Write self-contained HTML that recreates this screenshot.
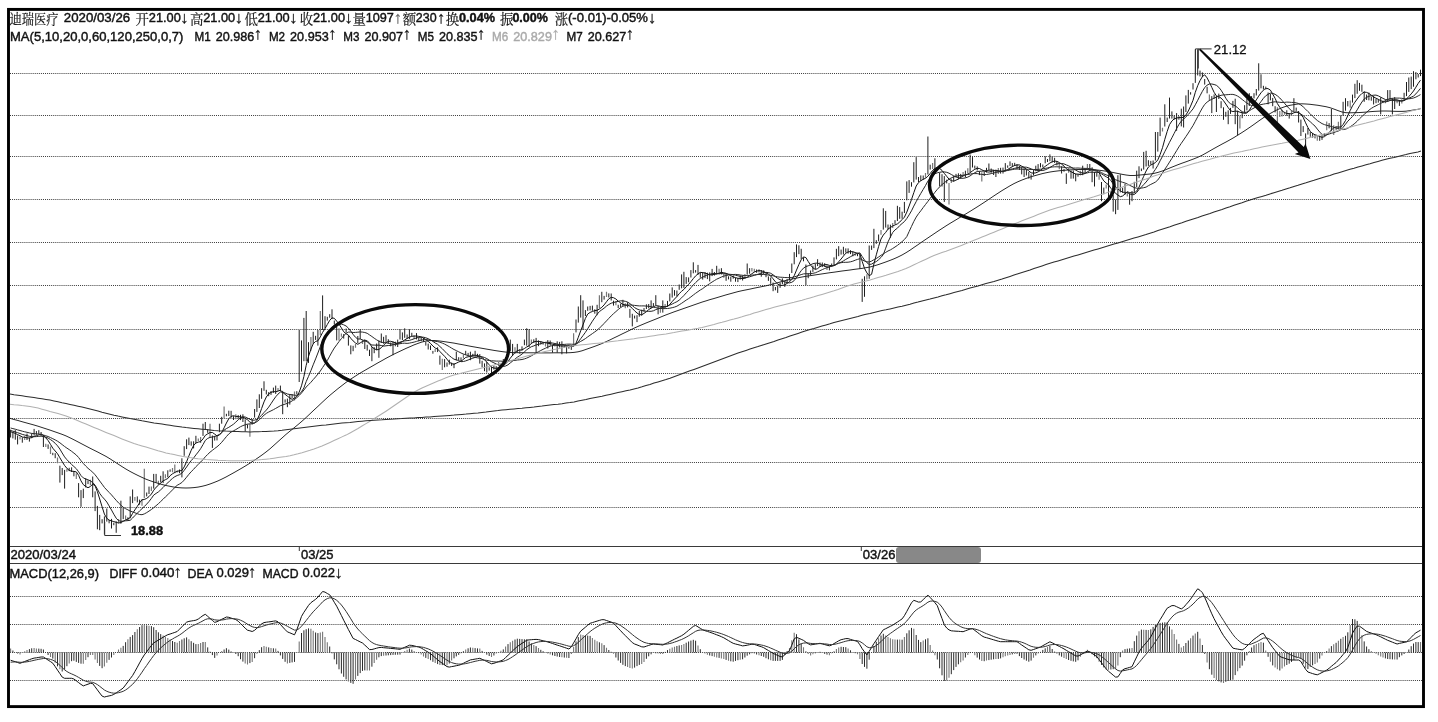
<!DOCTYPE html>
<html lang="zh"><head><meta charset="utf-8"><title>迪瑞医疗</title><style>html,body{margin:0;padding:0;background:#fff;overflow:hidden}svg{display:block}</style></head><body>
<svg width="1438" height="722" viewBox="0 0 1438 722" style="display:block">
<rect width="100%" height="100%" fill="#fff"/>
<g stroke="#3a3a3a" stroke-width="1" stroke-dasharray="1 1.06" fill="none">
<line x1="10" y1="73.5" x2="1422" y2="73.5"/>
<line x1="10" y1="115.5" x2="1422" y2="115.5"/>
<line x1="10" y1="156.5" x2="1422" y2="156.5"/>
<line x1="10" y1="199.5" x2="1422" y2="199.5"/>
<line x1="10" y1="242.5" x2="1422" y2="242.5"/>
<line x1="10" y1="285.5" x2="1422" y2="285.5"/>
<line x1="10" y1="329.5" x2="1422" y2="329.5"/>
<line x1="10" y1="373.5" x2="1422" y2="373.5"/>
<line x1="10" y1="418.5" x2="1422" y2="418.5"/>
<line x1="10" y1="462.5" x2="1422" y2="462.5"/>
<line x1="10" y1="507.5" x2="1422" y2="507.5"/>
<line x1="10" y1="596.5" x2="1422" y2="596.5"/>
<line x1="10" y1="624.5" x2="1422" y2="624.5"/>
<line x1="10" y1="652.5" x2="1422" y2="652.5"/>
<line x1="10" y1="680.5" x2="1422" y2="680.5"/>
</g>
<g stroke="#3a3a3a" stroke-width="1"><line x1="10" y1="546.5" x2="1422" y2="546.5"/><line x1="10" y1="563.5" x2="1422" y2="563.5"/>
<line x1="299.3" y1="546" x2="299.3" y2="551"/><line x1="861.3" y1="546" x2="861.3" y2="551"/></g>
<path d="M10.6 429.7V437.5M12.9 432.3V438.4M15.3 430.2V439.7M17.6 435.5V444.4M22.3 437.4V442.7M27.0 433.6V440.0M29.4 437.6V441.6M31.7 433.4V438.1M34.1 428.9V435.5M36.4 431.1V434.8M38.8 430.2V434.0M41.1 432.0V436.3M43.4 435.0V447.0M48.1 444.4V448.9M52.8 452.8V455.2M55.2 453.2V458.2M59.9 465.7V482.6M62.2 468.0V475.1M64.6 469.9V488.6M69.2 467.8V471.1M71.6 467.3V472.0M73.9 471.0V476.3M78.6 483.1V497.3M81.0 490.1V506.8M83.3 488.7V498.1M85.7 478.2V487.4M88.0 480.4V484.1M92.7 476.5V497.3M95.1 491.4V511.1M97.4 505.9V529.3M99.7 514.9V530.2M102.1 519.2V523.4M104.4 516.4V534.5M106.8 508.5V521.6M109.1 520.0V523.3M111.5 518.9V528.5M113.8 522.7V525.2M116.2 521.3V532.8M120.9 500.7V523.7M123.2 507.7V519.1M127.9 517.3V520.7M130.2 496.4V518.3M132.6 489.5V503.1M137.3 496.4V502.4M139.6 499.6V504.7M146.7 492.5V496.4M149.0 486.6V494.0M153.7 473.9V488.6M156.1 473.9V482.7M160.7 475.8V482.5M163.1 471.3V483.1M167.8 470.3V477.3M170.1 469.4V471.8M179.5 469.5V473.2M181.9 458.3V477.4M184.2 446.2V455.8M186.6 439.3V449.1M188.9 437.6V445.1M191.2 441.4V445.7M193.6 441.3V448.4M195.9 435.8V443.1M203.0 423.7V435.9M205.3 422.0V430.0M207.7 429.1V432.8M212.4 435.5V447.9M214.7 435.9V440.6M217.0 435.0V440.4M219.4 423.7V432.2M221.7 416.8V423.7M226.4 413.8V416.3M228.8 410.7V416.1M231.1 410.8V417.7M233.5 416.2V420.0M238.2 415.1V418.6M240.5 414.8V420.1M242.9 414.3V422.0M245.2 419.3V431.5M247.5 424.4V428.4M252.2 419.1V424.5M254.6 409.0V417.6M256.9 399.4V411.9M259.3 394.3V408.0M261.6 388.2V398.8M264.0 381.3V390.8M266.3 389.8V394.4M268.7 392.1V396.2M271.0 391.0V394.9M273.4 387.6V392.9M275.7 385.6V393.9M280.4 385.6V391.4M282.7 390.9V414.2M285.1 399.4V402.6M287.4 398.6V407.2M289.8 394.2V404.6M292.1 394.2V398.1M296.8 391.2V394.4M299.2 330.0V382.0M301.5 340.4V371.6M303.9 317.9V361.2M306.2 311.0V361.2M308.5 342.2V362.9M313.2 331.8V343.9M315.6 335.8V339.9M317.9 330.0V345.6M322.6 295.4V330.0M325.0 316.2V328.3M327.3 316.8V320.6M329.7 314.2V317.7M332.0 309.3V319.1M334.3 320.6V324.5M336.7 326.6V340.4M343.7 334.1V338.6M346.1 328.5V332.6M348.4 335.5V345.6M350.8 345.4V354.3M353.1 345.8V351.2M357.8 336.0V343.1M360.2 329.2V339.0M364.8 339.3V349.0M367.2 344.8V350.6M369.5 349.7V356.0M371.9 347.2V361.2M374.2 347.2V353.2M376.6 343.5V350.1M378.9 340.4V357.8M381.3 333.5V343.0M383.6 336.8V343.7M386.0 335.2V342.4M388.3 339.2V343.9M390.7 342.5V346.3M393.0 341.4V355.2M395.3 341.7V346.3M397.7 339.6V347.0M400.0 329.2V339.5M402.4 332.4V340.0M404.7 328.3V337.8M407.1 334.5V338.7M409.4 329.2V339.1M411.8 332.8V336.1M416.5 333.1V339.4M418.8 337.9V341.3M421.2 337.3V341.2M423.5 338.1V341.8M425.8 341.9V345.6M428.2 343.6V349.5M430.5 345.5V350.0M432.9 350.9V353.7M437.6 347.3V352.1M439.9 355.6V364.7M444.6 359.1V367.3M447.0 362.5V366.7M449.3 359.7V364.6M451.6 362.6V365.9M454.0 363.2V368.2M456.3 351.7V360.5M458.7 357.2V360.1M461.0 357.4V361.8M465.7 350.8V355.1M468.1 352.9V355.9M470.4 351.7V360.2M472.8 353.8V356.4M475.1 350.8V356.8M477.5 353.8V356.9M479.8 354.1V363.6M482.1 360.8V367.3M484.5 363.4V371.2M486.8 362.1V372.5M489.2 367.3V370.6M491.5 366.5V373.3M493.9 365.6V369.6M496.2 366.1V369.1M500.9 363.9V367.1M503.3 359.0V364.6M505.6 357.1V360.7M508.0 350.5V355.1M510.3 339.6V351.5M512.6 343.9V356.0M517.3 343.9V352.6M522.0 346.4V350.5M524.4 339.6V345.2M526.7 328.3V345.7M529.1 329.2V347.0M533.8 339.3V342.9M536.1 337.9V352.6M538.5 340.4V346.2M540.8 341.2V344.5M543.1 342.1V344.6M547.8 340.1V348.5M550.2 340.5V345.7M552.5 345.0V352.6M554.9 343.3V346.4M557.2 341.3V352.6M559.6 341.9V347.5M561.9 341.3V354.3M564.3 345.3V347.8M566.6 345.4V353.4M568.9 344.6V348.7M571.3 345.2V349.9M576.0 319.5V332.4M578.3 306.5V322.6M580.7 295.2V317.6M583.0 300.4V329.9M585.4 310.1V316.0M587.7 306.5V310.8M590.1 305.9V310.4M592.4 305.6V310.8M594.8 309.3V313.7M597.1 304.8V315.2M601.8 291.8V302.2M604.1 295.9V299.6M608.8 293.4V297.5M611.2 293.5V300.5M613.5 300.7V305.6M618.2 304.8V308.0M620.6 303.7V307.4M622.9 299.8V306.0M627.6 302.2V307.4M629.9 308.9V317.8M632.3 313.8V326.4M634.6 315.6V318.5M637.0 315.2V322.1M639.3 311.0V316.7M641.7 309.7V315.6M644.0 308.1V311.6M646.4 304.3V309.0M648.7 304.0V308.3M651.1 300.4V308.3M653.4 303.1V306.5M655.8 295.2V305.4M658.1 305.9V314.3M662.8 300.4V312.6M667.5 300.9V306.6M669.8 293.5V301.4M672.2 287.4V297.6M674.5 290.1V295.7M676.9 290.5V296.5M679.2 284.5V289.8M681.6 274.4V288.3M683.9 271.8V287.9M686.2 277.1V283.9M688.6 277.4V282.2M690.9 270.1V277.5M693.3 262.3V273.3M695.6 270.1V272.6M698.0 264.9V274.8M700.3 272.4V277.7M702.7 272.2V279.6M705.0 272.0V278.1M707.4 272.7V279.1M709.7 272.4V281.4M712.1 268.9V276.1M714.4 272.0V275.6M716.7 265.8V274.3M721.4 268.2V274.4M726.1 273.8V280.8M728.5 276.3V279.4M730.8 276.6V281.7M733.2 275.3V278.7M735.5 277.9V281.7M737.9 278.1V282.1M740.2 275.3V279.6M742.6 275.4V280.5M747.2 263.5V274.7M749.6 268.2V273.7M756.6 269.5V272.8M759.0 269.4V272.4M761.3 270.0V276.7M763.7 270.4V274.3M766.0 272.2V277.2M768.4 276.4V280.9M770.7 277.6V283.8M773.1 282.6V291.2M775.4 287.0V290.3M777.7 285.7V292.9M780.1 282.6V287.8M782.4 278.4V284.3M784.8 281.3V286.9M787.1 279.1V283.2M789.5 273.9V280.5M791.8 263.5V273.0M794.2 252.2V264.3M796.5 244.4V257.1M798.9 245.3V254.2M801.2 248.8V259.2M803.5 257.4V261.3M805.9 264.5V285.2M808.2 273.1V278.2M810.6 270.5V275.3M812.9 265.6V271.9M815.3 263.5V269.1M817.6 259.2V266.1M820.0 262.5V266.9M822.3 262.5V267.1M824.7 263.2V266.8M829.4 265.8V270.4M831.7 263.5V266.8M834.0 257.4V266.0M836.4 248.8V259.4M838.7 246.2V256.2M841.1 249.6V254.6M843.4 246.8V254.5M845.8 248.4V252.6M848.1 248.4V253.6M850.5 250.2V254.1M852.8 251.4V256.3M857.5 253.6V256.2M859.9 254.0V268.8M862.2 278.8V301.9M864.5 276.3V296.8M869.2 245.5V278.8M871.6 245.5V249.9M873.9 228.8V248.1M876.3 240.2V243.8M878.6 234.5V241.3M883.3 208.3V229.6M885.7 210.9V227.6M888.0 224.5V229.4M890.4 224.7V237.8M895.0 220.2V223.9M897.4 205.8V221.0M899.7 207.1V218.8M902.1 211.7V218.7M904.4 201.9V213.0M906.8 181.4V200.3M909.1 180.1V192.9M911.5 182.2V186.7M913.8 162.2V182.4M916.2 157.1V179.6M918.5 177.0V182.0M920.8 175.4V180.9M923.2 175.5V179.9M927.9 136.5V174.5M930.2 164.7V169.6M934.9 158.3V170.6M939.6 172.8V186.5M942.0 174.2V186.5M944.3 176.1V201.9M946.7 179.7V183.4M953.7 176.1V181.5M956.0 173.9V177.5M958.4 173.3V179.2M960.7 173.9V178.8M965.4 170.7V177.4M970.1 154.5V172.2M972.5 157.1V167.5M974.8 165.6V168.6M977.2 166.4V170.5M979.5 171.3V175.1M984.2 171.6V176.0M986.5 167.8V172.4M988.9 163.5V170.8M991.2 168.5V172.8M993.6 169.9V175.0M995.9 169.6V177.0M1000.6 167.8V173.6M1003.0 167.6V173.5M1005.3 163.1V171.5M1007.7 165.4V167.8M1010.0 161.4V166.1M1012.3 163.1V166.8M1014.7 162.8V166.1M1017.0 164.1V169.2M1019.4 165.8V170.0M1021.7 167.2V174.4M1024.1 168.2V177.0M1026.4 169.5V175.5M1028.8 172.0V178.6M1031.1 174.4V179.6M1033.5 170.1V175.3M1035.8 165.7V171.2M1038.1 164.1V170.4M1040.5 163.1V167.4M1042.8 164.5V167.5M1045.2 156.2V163.3M1047.5 159.0V162.0M1049.9 154.4V161.2M1052.2 156.6V162.4M1054.6 157.8V162.9M1056.9 161.0V165.4M1061.6 166.3V173.5M1064.0 168.9V171.7M1066.3 173.4V183.9M1071.0 170.6V178.7M1073.3 170.5V178.6M1075.7 173.5V181.3M1078.0 174.2V176.7M1082.7 165.7V175.2M1085.1 168.4V172.9M1089.8 164.0V170.5M1092.1 167.3V182.2M1094.5 172.0V186.5M1096.8 172.5V176.7M1101.5 182.0V201.2M1103.8 187.6V194.3M1108.5 174.4V197.8M1110.9 190.9V196.9M1113.2 195.1V211.6M1115.6 199.5V214.2M1117.9 175.2V209.9M1120.3 174.4V192.4M1122.6 187.8V192.8M1125.0 183.9V194.7M1129.6 193.3V204.7M1132.0 191.0V201.2M1134.3 181.8V192.8M1136.7 170.7V187.1M1139.0 166.3V178.2M1141.4 168.5V171.1M1143.7 151.9V169.6M1146.1 150.8V166.5M1148.4 160.2V165.9M1150.8 160.9V164.6M1153.1 160.5V168.5M1155.4 132.0V160.5M1157.8 132.0V151.6M1160.1 117.6V136.1M1164.8 104.3V126.5M1167.2 117.6V122.0M1169.5 97.6V118.5M1171.9 111.4V118.6M1174.2 115.6V119.6M1176.6 113.1V130.8M1178.9 116.2V119.7M1181.3 108.7V126.4M1183.6 106.5V127.5M1185.9 95.4V112.0M1188.3 89.9V103.6M1190.6 92.2V94.6M1193.0 83.2V89.5M1195.3 49.3V82.9M1197.7 49.3V75.4M1200.0 70.6V76.4M1202.4 72.4V77.0M1204.7 79.0V84.6M1207.1 86.8V93.3M1211.8 96.1V113.1M1214.1 94.4V98.9M1216.4 96.0V112.0M1218.8 93.6V99.0M1221.1 101.2V108.2M1223.5 107.3V119.8M1225.8 111.8V116.8M1228.2 110.3V124.2M1230.5 107.9V113.9M1232.9 100.9V107.8M1235.2 98.7V124.2M1237.6 110.7V135.3M1242.2 112.3V118.2M1244.6 105.2V112.8M1246.9 98.7V110.4M1249.3 93.2V106.0M1251.6 96.1V101.5M1254.0 93.2V98.4M1256.3 89.0V95.5M1258.7 63.3V90.6M1261.0 74.3V88.3M1263.4 85.8V89.5M1268.1 92.5V104.3M1270.4 93.8V100.3M1272.7 97.9V106.2M1275.1 106.2V112.4M1286.8 110.2V115.8M1289.2 113.2V118.6M1293.9 98.2V111.1M1296.2 107.6V110.9M1298.6 111.0V122.5M1300.9 119.6V136.0M1303.2 126.1V132.1M1305.6 133.4V145.0M1307.9 128.0V134.6M1310.3 132.1V136.8M1312.6 132.9V137.7M1315.0 135.0V138.4M1319.7 135.9V140.8M1322.0 135.2V139.9M1324.4 133.2V135.9M1329.1 123.1V128.3M1331.4 109.0V130.6M1336.1 127.4V129.8M1340.8 115.3V129.5M1343.1 101.8V115.8M1345.5 98.2V110.7M1347.8 101.0V106.4M1352.5 94.6V102.6M1354.9 83.8V98.1M1357.2 80.2V93.8M1359.5 82.9V90.8M1361.9 84.7V91.8M1364.2 91.4V101.8M1366.6 94.5V100.0M1368.9 92.6V100.3M1371.3 96.5V100.7M1373.6 95.9V104.5M1376.0 99.0V103.2M1378.3 99.3V102.6M1380.7 97.3V114.4M1383.0 100.6V103.1M1387.7 90.1V101.6M1390.0 90.1V99.1M1392.4 98.2V114.4M1394.7 97.1V109.0M1399.4 100.0V105.9M1404.1 92.8V100.9M1406.5 82.0V96.1M1408.8 77.5V91.9M1411.2 76.6V89.1M1413.5 71.2V86.7M1415.9 72.1V79.3M1418.2 74.0V77.5M1420.5 69.7V76.1" stroke="#1e1e1e" stroke-width="1" fill="none"/>
<path d="M20.0 436.6V439.5M24.7 435.9V440.1M45.8 443.8V447.1M50.5 446.6V453.9M57.5 457.5V463.2M66.9 468.4V471.8M76.3 473.2V479.1M90.4 479.7V485.2M118.5 519.1V523.2M125.6 515.5V519.8M134.9 497.0V500.7M142.0 498.9V505.8M144.3 468.7V498.3M151.4 486.6V490.9M158.4 480.7V485.1M165.4 474.3V478.2M172.5 468.1V472.3M174.8 464.4V473.3M177.2 470.4V472.6M198.3 438.4V441.0M200.6 436.9V442.9M210.0 423.7V437.6M224.1 406.4V418.3M235.8 414.2V419.3M249.9 423.8V436.7M278.0 387.9V391.0M294.5 391.5V400.5M310.9 337.0V350.8M320.3 311.0V335.2M339.0 328.3V340.4M341.4 333.4V336.8M355.5 344.0V347.8M362.5 339.7V344.0M414.1 335.3V339.1M435.2 349.0V352.1M442.3 358.8V369.9M463.4 354.2V358.6M498.6 362.0V365.8M515.0 347.2V353.7M519.7 349.1V353.9M531.4 339.6V344.0M545.5 342.2V346.5M573.6 333.3V346.2M599.4 295.2V308.3M606.5 291.8V296.9M615.9 301.0V305.3M625.3 303.2V308.2M660.4 306.8V312.8M665.1 304.0V308.0M719.1 268.7V274.8M723.8 273.8V277.7M744.9 274.1V278.1M751.9 268.0V271.4M754.3 268.8V272.1M827.0 265.3V270.1M855.2 252.3V255.8M866.9 274.3V279.4M881.0 229.9V234.7M892.7 222.9V228.1M925.5 173.1V177.7M932.6 163.1V168.9M937.3 168.4V171.2M949.0 183.1V204.5M951.3 178.6V183.1M963.1 171.9V176.3M967.8 168.3V173.5M981.8 172.3V181.4M998.3 167.9V174.1M1059.3 163.0V169.2M1068.6 168.2V172.8M1080.4 170.7V175.3M1087.4 164.0V169.2M1099.1 174.4V179.7M1106.2 184.5V188.4M1127.3 191.4V196.4M1162.5 127.8V131.4M1209.4 94.6V100.9M1239.9 115.7V128.6M1265.7 86.6V89.8M1277.4 107.2V123.4M1279.8 111.0V117.1M1282.1 109.8V116.5M1284.5 111.8V114.7M1291.5 110.7V116.1M1317.3 135.4V140.7M1326.7 121.6V130.3M1333.7 125.3V135.1M1338.4 121.7V129.6M1350.2 100.4V107.8M1385.4 99.7V103.2M1397.1 100.1V103.2M1401.8 99.2V103.6" stroke="#777" stroke-width="1.2" fill="none"/>
<polyline points="10.6,431.7 12.9,432.5 15.3,433.4 17.6,434.6 20.0,435.7 22.3,437.0 24.7,437.4 27.0,437.8 29.4,438.0 31.7,437.6 34.1,436.4 36.4,435.7 38.8,434.8 41.1,434.2 43.4,435.5 45.8,437.9 48.1,440.5 50.5,444.4 52.8,448.2 55.2,451.0 57.5,453.7 59.9,457.8 62.2,461.6 64.6,465.5 66.9,468.3 69.2,470.4 71.6,471.2 73.9,471.4 76.3,471.9 78.6,475.3 81.0,480.9 83.3,484.6 85.7,486.5 88.0,487.7 90.4,486.5 92.7,484.1 95.1,485.8 97.4,491.7 99.7,499.0 102.1,506.8 104.4,514.1 106.8,518.3 109.1,520.1 111.5,520.9 113.8,521.6 116.2,522.3 118.5,523.0 120.9,522.5 123.2,521.3 125.6,520.0 127.9,519.0 130.2,517.6 132.6,513.4 134.9,509.9 137.3,506.4 139.6,502.8 142.0,499.8 144.3,499.5 146.7,498.4 149.0,496.6 151.4,494.0 153.7,490.3 156.1,487.2 158.4,485.3 160.7,483.0 163.1,480.9 165.4,479.7 167.8,478.5 170.1,475.7 172.5,473.8 174.8,472.4 177.2,471.3 179.5,470.8 181.9,470.5 184.2,466.9 186.6,461.7 188.9,455.9 191.2,450.3 193.6,445.5 195.9,443.0 198.3,442.1 200.6,441.6 203.0,438.9 205.3,435.4 207.7,433.8 210.0,432.6 212.4,432.5 214.7,434.1 217.0,435.9 219.4,435.1 221.7,432.6 224.1,427.8 226.4,423.0 228.8,418.7 231.1,416.4 233.5,415.7 235.8,416.4 238.2,416.5 240.5,417.0 242.9,417.2 245.2,418.3 247.5,419.8 249.9,422.1 252.2,423.1 254.6,423.1 256.9,420.4 259.3,415.0 261.6,408.5 264.0,401.9 266.3,397.0 268.7,393.8 271.0,392.4 273.4,391.6 275.7,391.8 278.0,391.1 280.4,390.2 282.7,392.3 285.1,394.3 287.4,396.2 289.8,397.9 292.1,399.4 294.5,398.0 296.8,396.4 299.2,392.1 301.5,385.8 303.9,376.5 306.2,365.3 308.5,356.4 310.9,349.2 313.2,343.8 315.6,341.4 317.9,340.8 320.3,336.9 322.6,332.4 325.0,328.6 327.3,324.5 329.7,320.4 332.0,317.9 334.3,318.3 336.7,321.1 339.0,324.1 341.4,327.9 343.7,331.7 346.1,333.8 348.4,335.1 350.8,338.3 353.1,340.9 355.5,343.0 357.8,344.3 360.2,342.9 362.5,341.5 364.8,340.7 367.2,340.7 369.5,343.2 371.9,347.0 374.2,348.7 376.6,349.8 378.9,349.4 381.3,347.7 383.6,345.2 386.0,342.8 388.3,341.3 390.7,341.3 393.0,342.0 395.3,342.8 397.7,343.5 400.0,342.9 402.4,341.6 404.7,339.9 407.1,338.5 409.4,337.2 411.8,336.3 414.1,336.1 416.5,336.0 418.8,336.4 421.2,336.9 423.5,338.1 425.8,339.6 428.2,341.4 430.5,343.4 432.9,346.0 435.2,348.0 437.6,349.1 439.9,351.5 442.3,354.0 444.6,356.3 447.0,359.2 449.3,362.2 451.6,363.6 454.0,364.3 456.3,363.2 458.7,362.0 461.0,361.1 463.4,359.5 465.7,357.4 468.1,356.8 470.4,356.2 472.8,355.3 475.1,355.2 477.5,355.5 479.8,356.2 482.1,357.5 484.5,359.7 486.8,362.1 489.2,364.8 491.5,367.2 493.9,368.1 496.2,368.3 498.6,367.6 500.9,366.8 503.3,365.6 505.6,363.9 508.0,361.3 510.3,358.2 512.6,355.3 515.0,352.5 517.3,350.6 519.7,350.1 522.0,349.9 524.4,348.5 526.7,347.0 529.1,345.7 531.4,343.4 533.8,341.9 536.1,341.3 538.5,341.5 540.8,341.7 543.1,342.3 545.5,342.7 547.8,343.3 550.2,343.6 552.5,344.3 554.9,344.7 557.2,345.4 559.6,345.8 561.9,346.0 564.3,346.0 566.6,346.4 568.9,346.5 571.3,346.4 573.6,346.2 576.0,343.3 578.3,337.3 580.7,330.8 583.0,324.9 585.4,318.4 587.7,314.1 590.1,312.4 592.4,311.5 594.8,310.6 597.1,310.3 599.4,309.0 601.8,307.3 604.1,304.9 606.5,301.7 608.8,298.8 611.2,297.4 613.5,297.7 615.9,299.0 618.2,301.1 620.6,302.8 622.9,304.4 625.3,304.9 627.6,305.2 629.9,306.2 632.3,308.4 634.6,310.8 637.0,313.0 639.3,314.6 641.7,314.8 644.0,313.4 646.4,311.7 648.7,309.6 651.1,308.1 653.4,306.8 655.8,305.7 658.1,305.9 660.4,306.4 662.8,306.7 665.1,306.8 667.5,306.4 669.8,304.3 672.2,301.6 674.5,299.0 676.9,296.6 679.2,293.7 681.6,291.3 683.9,289.4 686.2,286.8 688.6,284.4 690.9,281.7 693.3,278.6 695.6,275.9 698.0,273.9 700.3,272.4 702.7,272.6 705.0,273.1 707.4,273.8 709.7,274.9 712.1,274.7 714.4,274.3 716.7,274.0 719.1,273.2 721.4,272.3 723.8,272.8 726.1,273.3 728.5,274.4 730.8,275.6 733.2,276.9 735.5,277.6 737.9,278.3 740.2,278.4 742.6,278.5 744.9,278.3 747.2,277.3 749.6,275.4 751.9,273.7 754.3,272.1 756.6,271.1 759.0,270.6 761.3,270.9 763.7,271.5 766.0,272.8 768.4,274.1 770.7,276.0 773.1,278.8 775.4,281.8 777.7,284.0 780.1,285.3 782.4,285.5 784.8,284.8 787.1,283.4 789.5,281.8 791.8,279.4 794.2,275.7 796.5,270.1 798.9,264.5 801.2,259.7 803.5,256.9 805.9,257.6 808.2,261.4 810.6,265.1 812.9,267.8 815.3,269.5 817.6,268.6 820.0,266.6 822.3,265.4 824.7,264.7 827.0,264.6 829.4,265.4 831.7,265.7 834.0,265.7 836.4,264.3 838.7,261.7 841.1,259.0 843.4,256.1 845.8,253.2 848.1,251.9 850.5,251.6 852.8,251.8 855.2,252.5 857.5,253.3 859.9,253.9 862.2,261.4 864.5,268.4 866.9,272.9 869.2,275.7 871.6,274.3 873.9,264.0 876.3,254.8 878.6,246.5 881.0,239.0 883.3,235.0 885.7,232.4 888.0,229.1 890.4,227.5 892.7,226.0 895.0,224.9 897.4,223.9 899.7,222.1 902.1,219.5 904.4,217.2 906.8,212.1 909.1,206.0 911.5,199.5 913.8,192.7 916.2,186.0 918.5,182.6 920.8,180.8 923.2,179.3 925.5,178.3 927.9,176.2 930.2,173.5 932.6,170.4 934.9,168.4 937.3,167.3 939.6,168.4 942.0,170.4 944.3,173.4 946.7,176.3 949.0,179.1 951.3,180.6 953.7,181.2 956.0,180.1 958.4,179.1 960.7,177.3 963.1,176.0 965.4,174.7 967.8,174.2 970.1,172.7 972.5,170.9 974.8,169.3 977.2,168.3 979.5,168.5 981.8,169.8 984.2,171.0 986.5,171.8 988.9,172.1 991.2,171.5 993.6,170.7 995.9,170.6 998.3,170.7 1000.6,171.1 1003.0,171.3 1005.3,170.6 1007.7,169.5 1010.0,168.0 1012.3,166.7 1014.7,165.4 1017.0,165.0 1019.4,164.9 1021.7,166.2 1024.1,167.4 1026.4,169.1 1028.8,170.9 1031.1,172.8 1033.5,173.2 1035.8,172.8 1038.1,171.9 1040.5,170.4 1042.8,168.3 1045.2,166.4 1047.5,164.7 1049.9,163.0 1052.2,161.8 1054.6,161.0 1056.9,161.4 1059.3,162.5 1061.6,164.1 1064.0,166.1 1066.3,168.7 1068.6,170.3 1071.0,171.7 1073.3,172.9 1075.7,174.1 1078.0,174.1 1080.4,174.6 1082.7,174.1 1085.1,173.5 1087.4,171.8 1089.8,170.4 1092.1,169.7 1094.5,170.6 1096.8,171.3 1099.1,172.8 1101.5,177.3 1103.8,180.9 1106.2,183.1 1108.5,184.7 1110.9,188.5 1113.2,190.6 1115.6,193.4 1117.9,195.0 1120.3,196.7 1122.6,196.0 1125.0,193.9 1127.3,191.9 1129.6,192.5 1132.0,193.0 1134.3,192.9 1136.7,191.1 1139.0,187.2 1141.4,181.6 1143.7,176.3 1146.1,171.0 1148.4,167.0 1150.8,165.0 1153.1,163.9 1155.4,162.6 1157.8,159.9 1160.1,154.6 1162.5,147.7 1164.8,139.3 1167.2,131.4 1169.5,124.7 1171.9,121.0 1174.2,118.9 1176.6,118.0 1178.9,117.6 1181.3,117.6 1183.6,117.3 1185.9,115.0 1188.3,111.0 1190.6,106.1 1193.0,100.3 1195.3,92.3 1197.7,85.7 1200.0,80.6 1202.4,76.6 1204.7,74.8 1207.1,77.9 1209.4,82.4 1211.8,87.4 1214.1,92.3 1216.4,95.9 1218.8,96.7 1221.1,98.1 1223.5,100.7 1225.8,104.0 1228.2,107.6 1230.5,110.7 1232.9,111.6 1235.2,111.1 1237.6,111.3 1239.9,112.2 1242.2,112.7 1244.6,113.4 1246.9,113.0 1249.3,110.3 1251.6,106.4 1254.0,103.3 1256.3,99.9 1258.7,96.1 1261.0,92.8 1263.4,90.2 1265.7,88.2 1268.1,88.7 1270.4,90.1 1272.7,94.1 1275.1,98.3 1277.4,103.6 1279.8,107.3 1282.1,110.9 1284.5,112.5 1286.8,113.5 1289.2,113.6 1291.5,113.9 1293.9,112.8 1296.2,112.0 1298.6,112.2 1300.9,114.6 1303.2,117.4 1305.6,122.8 1307.9,127.5 1310.3,131.5 1312.6,133.5 1315.0,134.8 1317.3,135.4 1319.7,136.5 1322.0,137.3 1324.4,136.7 1326.7,134.8 1329.1,132.6 1331.4,130.0 1333.7,127.9 1336.1,126.8 1338.4,127.1 1340.8,127.0 1343.1,124.5 1345.5,120.5 1347.8,115.7 1350.2,110.5 1352.5,105.8 1354.9,102.2 1357.2,99.0 1359.5,95.9 1361.9,93.5 1364.2,92.1 1366.6,92.4 1368.9,93.5 1371.3,95.2 1373.6,97.0 1376.0,98.2 1378.3,99.3 1380.7,100.7 1383.0,101.6 1385.4,101.9 1387.7,101.4 1390.0,100.5 1392.4,99.8 1394.7,99.8 1397.1,99.8 1399.4,100.6 1401.8,101.1 1404.1,100.6 1406.5,98.9 1408.8,96.6 1411.2,93.9 1413.5,91.0 1415.9,87.2 1418.2,83.4 1420.5,80.2" fill="none" stroke="#111" stroke-width="1"/>
<polyline points="10.6,430.5 12.9,431.2 15.3,431.9 17.6,432.7 20.0,433.5 22.3,434.4 24.7,435.0 27.0,435.6 29.4,436.3 31.7,436.6 34.1,436.7 36.4,436.6 38.8,436.3 41.1,436.1 43.4,436.6 45.8,437.1 48.1,438.1 50.5,439.6 52.8,441.2 55.2,443.3 57.5,445.8 59.9,449.1 62.2,453.0 64.6,456.9 66.9,459.7 69.2,462.0 71.6,464.5 73.9,466.5 76.3,468.7 78.6,471.8 81.0,475.6 83.3,477.9 85.7,479.0 88.0,479.8 90.4,480.9 92.7,482.5 95.1,485.2 97.4,489.1 99.7,493.4 102.1,496.6 104.4,499.1 106.8,502.0 109.1,505.9 111.5,510.0 113.8,514.2 116.2,518.2 118.5,520.6 120.9,521.3 123.2,521.1 125.6,520.8 127.9,520.6 130.2,520.3 132.6,518.0 134.9,515.6 137.3,513.2 139.6,510.9 142.0,508.7 144.3,506.5 146.7,504.1 149.0,501.5 151.4,498.4 153.7,495.1 156.1,493.4 158.4,491.9 160.7,489.8 163.1,487.5 165.4,485.0 167.8,482.9 170.1,480.5 172.5,478.4 174.8,476.7 177.2,475.5 179.5,474.7 181.9,473.1 184.2,470.3 186.6,467.0 188.9,463.6 191.2,460.6 193.6,458.0 195.9,454.9 198.3,451.9 200.6,448.7 203.0,444.6 205.3,440.4 207.7,438.4 210.0,437.4 212.4,437.0 214.7,436.5 217.0,435.6 219.4,434.4 221.7,432.6 224.1,430.1 226.4,428.6 228.8,427.3 231.1,425.8 233.5,424.2 235.8,422.1 238.2,419.8 240.5,417.9 242.9,416.8 245.2,417.0 247.5,418.1 249.9,419.3 252.2,420.1 254.6,420.2 256.9,419.3 259.3,417.4 261.6,415.3 264.0,412.5 266.3,410.1 268.7,407.1 271.0,403.7 273.4,400.0 275.7,396.8 278.0,394.1 280.4,392.0 282.7,392.3 285.1,393.0 287.4,394.0 289.8,394.5 292.1,394.8 294.5,395.2 296.8,395.4 299.2,394.2 301.5,391.9 303.9,387.9 306.2,381.6 308.5,376.4 310.9,370.7 313.2,364.8 315.6,358.9 317.9,353.0 320.3,346.6 322.6,340.8 325.0,336.2 327.3,333.0 329.7,330.6 332.0,327.4 334.3,325.3 336.7,324.8 339.0,324.3 341.4,324.1 343.7,324.8 346.1,326.0 348.4,328.1 350.8,331.2 353.1,334.4 355.5,337.3 357.8,339.0 360.2,339.0 362.5,339.9 364.8,340.8 367.2,341.9 369.5,343.8 371.9,345.0 374.2,345.1 376.6,345.2 378.9,345.1 381.3,345.5 383.6,346.1 386.0,345.8 388.3,345.5 390.7,345.3 393.0,344.8 395.3,344.0 397.7,343.1 400.0,342.1 402.4,341.4 404.7,340.9 407.1,340.6 409.4,340.4 411.8,339.6 414.1,338.8 416.5,337.9 418.8,337.4 421.2,337.1 423.5,337.2 425.8,337.8 428.2,338.7 430.5,339.9 432.9,341.4 435.2,343.0 437.6,344.3 439.9,346.5 442.3,348.7 444.6,351.1 447.0,353.6 449.3,355.6 451.6,357.5 454.0,359.2 456.3,359.8 458.7,360.6 461.0,361.7 463.4,361.5 465.7,360.9 468.1,360.0 470.4,359.1 472.8,358.2 475.1,357.4 477.5,356.5 479.8,356.5 482.1,356.8 484.5,357.5 486.8,358.6 489.2,360.1 491.5,361.7 493.9,362.8 496.2,364.0 498.6,364.9 500.9,365.8 503.3,366.4 505.6,366.0 508.0,364.8 510.3,362.9 512.6,361.1 515.0,359.0 517.3,357.2 519.7,355.7 522.0,354.1 524.4,351.9 526.7,349.8 529.1,348.1 531.4,346.7 533.8,345.9 536.1,344.9 538.5,344.3 540.8,343.7 543.1,342.8 545.5,342.3 547.8,342.3 550.2,342.6 552.5,343.0 554.9,343.5 557.2,344.1 559.6,344.6 561.9,344.8 564.3,345.1 566.6,345.6 568.9,345.9 571.3,346.1 573.6,346.1 576.0,344.6 578.3,341.9 580.7,338.7 583.0,335.6 585.4,332.3 587.7,328.7 590.1,324.9 592.4,321.2 594.8,317.7 597.1,314.3 599.4,311.6 601.8,309.8 604.1,308.2 606.5,306.1 608.8,304.5 611.2,303.2 613.5,302.5 615.9,301.9 618.2,301.4 620.6,300.8 622.9,300.9 625.3,301.3 627.6,302.1 629.9,303.6 632.3,305.6 634.6,307.6 637.0,309.0 639.3,309.9 641.7,310.5 644.0,310.9 646.4,311.3 648.7,311.3 651.1,311.3 653.4,310.8 655.8,309.6 658.1,308.8 660.4,308.0 662.8,307.4 665.1,306.8 667.5,306.1 669.8,305.1 672.2,304.0 674.5,302.8 676.9,301.7 679.2,300.1 681.6,297.8 683.9,295.5 686.2,292.9 688.6,290.5 690.9,287.7 693.3,284.9 695.6,282.6 698.0,280.3 700.3,278.4 702.7,277.2 705.0,275.9 707.4,274.9 709.7,274.4 712.1,273.6 714.4,273.5 716.7,273.6 719.1,273.5 721.4,273.6 723.8,273.7 726.1,273.8 728.5,274.2 730.8,274.4 733.2,274.6 735.5,275.2 737.9,275.8 740.2,276.4 742.6,277.1 744.9,277.6 747.2,277.4 749.6,276.8 751.9,276.1 754.3,275.3 756.6,274.7 759.0,273.9 761.3,273.1 763.7,272.6 766.0,272.4 768.4,272.6 770.7,273.3 773.1,274.8 775.4,276.7 777.7,278.4 780.1,279.7 782.4,280.7 784.8,281.8 787.1,282.6 789.5,282.9 791.8,282.3 794.2,280.6 796.5,277.5 798.9,273.9 801.2,270.7 803.5,268.1 805.9,266.6 808.2,265.8 810.6,264.8 812.9,263.7 815.3,263.2 817.6,263.1 820.0,264.0 822.3,265.2 824.7,266.2 827.0,267.0 829.4,267.0 831.7,266.1 834.0,265.5 836.4,264.5 838.7,263.1 841.1,262.2 843.4,260.9 845.8,259.4 848.1,258.1 850.5,256.7 852.8,255.4 855.2,254.3 857.5,253.2 859.9,252.9 862.2,256.5 864.5,260.1 866.9,262.7 869.2,264.5 871.6,264.1 873.9,262.7 876.3,261.6 878.6,259.7 881.0,257.4 883.3,254.6 885.7,248.2 888.0,241.9 890.4,237.0 892.7,232.5 895.0,229.9 897.4,228.2 899.7,225.6 902.1,223.5 904.4,221.6 906.8,218.5 909.1,214.9 911.5,210.8 913.8,206.1 916.2,201.6 918.5,197.4 920.8,193.4 923.2,189.4 925.5,185.5 927.9,181.1 930.2,178.1 932.6,175.6 934.9,173.8 937.3,172.8 939.6,172.3 942.0,171.9 944.3,171.9 946.7,172.3 949.0,173.2 951.3,174.5 953.7,175.8 956.0,176.8 958.4,177.7 960.7,178.2 963.1,178.3 965.4,177.9 967.8,177.1 970.1,175.9 972.5,174.1 974.8,172.7 977.2,171.5 979.5,171.3 981.8,171.2 984.2,170.9 986.5,170.6 988.9,170.2 991.2,170.0 993.6,170.2 995.9,170.8 998.3,171.3 1000.6,171.6 1003.0,171.4 1005.3,170.6 1007.7,170.1 1010.0,169.3 1012.3,168.9 1014.7,168.3 1017.0,167.8 1019.4,167.2 1021.7,167.1 1024.1,167.1 1026.4,167.2 1028.8,167.9 1031.1,168.9 1033.5,169.7 1035.8,170.1 1038.1,170.5 1040.5,170.6 1042.8,170.5 1045.2,169.8 1047.5,168.8 1049.9,167.5 1052.2,166.1 1054.6,164.6 1056.9,163.9 1059.3,163.6 1061.6,163.5 1064.0,163.9 1066.3,164.9 1068.6,165.8 1071.0,167.1 1073.3,168.5 1075.7,170.1 1078.0,171.4 1080.4,172.5 1082.7,172.9 1085.1,173.2 1087.4,172.9 1089.8,172.2 1092.1,172.2 1094.5,172.3 1096.8,172.4 1099.1,172.3 1101.5,173.8 1103.8,175.3 1106.2,176.8 1108.5,178.0 1110.9,180.7 1113.2,183.9 1115.6,187.1 1117.9,189.1 1120.3,190.7 1122.6,192.3 1125.0,192.3 1127.3,192.6 1129.6,193.8 1132.0,194.8 1134.3,194.5 1136.7,192.5 1139.0,189.5 1141.4,187.1 1143.7,184.6 1146.1,182.0 1148.4,179.1 1150.8,176.1 1153.1,172.7 1155.4,169.4 1157.8,165.4 1160.1,160.8 1162.5,156.3 1164.8,151.6 1167.2,147.0 1169.5,142.3 1171.9,137.8 1174.2,133.3 1176.6,128.6 1178.9,124.5 1181.3,121.1 1183.6,119.1 1185.9,116.9 1188.3,114.5 1190.6,111.8 1193.0,108.9 1195.3,104.8 1197.7,100.3 1200.0,95.8 1202.4,91.3 1204.7,87.6 1207.1,85.1 1209.4,84.0 1211.8,84.0 1214.1,84.5 1216.4,85.3 1218.8,87.3 1221.1,90.2 1223.5,94.1 1225.8,98.2 1228.2,101.7 1230.5,103.7 1232.9,104.8 1235.2,105.9 1237.6,107.7 1239.9,109.9 1242.2,111.7 1244.6,112.5 1246.9,112.1 1249.3,110.8 1251.6,109.3 1254.0,108.0 1256.3,106.6 1258.7,104.5 1261.0,101.6 1263.4,98.3 1265.7,95.8 1268.1,94.3 1270.4,93.1 1272.7,93.4 1275.1,94.3 1277.4,95.9 1279.8,98.0 1282.1,100.5 1284.5,103.3 1286.8,105.9 1289.2,108.6 1291.5,110.6 1293.9,111.9 1296.2,112.2 1298.6,112.8 1300.9,114.1 1303.2,115.7 1305.6,117.8 1307.9,119.8 1310.3,121.8 1312.6,124.0 1315.0,126.1 1317.3,129.1 1319.7,132.0 1322.0,134.4 1324.4,135.1 1326.7,134.8 1329.1,134.0 1331.4,133.3 1333.7,132.6 1336.1,131.7 1338.4,131.0 1340.8,129.8 1343.1,127.3 1345.5,124.2 1347.8,121.2 1350.2,118.8 1352.5,116.4 1354.9,113.4 1357.2,109.8 1359.5,105.8 1361.9,102.0 1364.2,99.0 1366.6,97.3 1368.9,96.3 1371.3,95.6 1373.6,95.2 1376.0,95.1 1378.3,95.9 1380.7,97.1 1383.0,98.4 1385.4,99.5 1387.7,99.8 1390.0,99.9 1392.4,100.2 1394.7,100.7 1397.1,100.9 1399.4,101.0 1401.8,100.8 1404.1,100.2 1406.5,99.4 1408.8,98.2 1411.2,97.2 1413.5,96.1 1415.9,93.9 1418.2,91.2 1420.5,88.4" fill="none" stroke="#222" stroke-width="1"/>
<polyline points="10.6,428.0 12.9,428.6 15.3,429.2 17.6,429.9 20.0,430.5 22.3,431.2 24.7,431.8 27.0,432.3 29.4,432.9 31.7,433.4 34.1,433.6 36.4,433.9 38.8,434.1 41.1,434.4 43.4,435.0 45.8,435.8 48.1,436.5 50.5,437.6 52.8,438.7 55.2,439.9 57.5,441.2 59.9,442.8 62.2,444.6 64.6,446.5 66.9,448.1 69.2,449.6 71.6,451.3 73.9,453.1 76.3,455.0 78.6,457.5 81.0,460.7 83.3,463.5 85.7,466.0 88.0,468.3 90.4,470.3 92.7,472.2 95.1,474.8 97.4,477.8 99.7,481.0 102.1,484.2 104.4,487.4 106.8,490.0 109.1,492.4 111.5,494.9 113.8,497.6 116.2,500.3 118.5,502.9 120.9,505.2 123.2,507.2 125.6,508.7 127.9,509.8 130.2,511.1 132.6,511.9 134.9,512.8 137.3,513.7 139.6,514.5 142.0,514.7 144.3,513.9 146.7,512.6 149.0,511.1 151.4,509.5 153.7,507.7 156.1,505.7 158.4,503.7 160.7,501.5 163.1,499.2 165.4,496.9 167.8,494.7 170.1,492.3 172.5,489.9 174.8,487.5 177.2,485.3 179.5,484.0 181.9,482.5 184.2,480.1 186.6,477.2 188.9,474.3 191.2,471.7 193.6,469.3 195.9,466.7 198.3,464.3 200.6,462.1 203.0,459.6 205.3,456.8 207.7,454.4 210.0,452.2 212.4,450.3 214.7,448.5 217.0,446.8 219.4,444.7 221.7,442.3 224.1,439.4 226.4,436.6 228.8,433.9 231.1,432.1 233.5,430.8 235.8,429.6 238.2,428.1 240.5,426.7 242.9,425.6 245.2,424.8 247.5,424.1 249.9,423.9 252.2,423.7 254.6,423.0 256.9,421.7 259.3,419.8 261.6,417.5 264.0,415.2 266.3,413.4 268.7,412.0 271.0,410.9 273.4,409.7 275.7,408.4 278.0,407.1 280.4,405.7 282.7,404.9 285.1,404.1 287.4,403.3 289.8,402.3 292.1,400.9 294.5,399.4 296.8,397.7 299.2,395.5 301.5,393.0 303.9,390.0 306.2,387.0 308.5,384.7 310.9,382.3 313.2,379.6 315.6,376.9 317.9,374.1 320.3,371.0 322.6,367.5 325.0,364.0 327.3,360.5 329.7,356.1 332.0,351.9 334.3,348.0 336.7,344.8 339.0,341.6 341.4,338.6 343.7,335.7 346.1,333.4 348.4,332.1 350.8,332.1 353.1,332.5 355.5,332.4 357.8,332.2 360.2,331.9 362.5,332.1 364.8,332.5 367.2,333.3 369.5,334.9 371.9,336.5 374.2,338.2 376.6,339.8 378.9,341.2 381.3,342.2 383.6,342.6 386.0,342.8 388.3,343.2 390.7,343.6 393.0,344.3 395.3,344.5 397.7,344.1 400.0,343.7 402.4,343.3 404.7,343.2 407.1,343.4 409.4,343.1 411.8,342.6 414.1,342.1 416.5,341.4 418.8,340.7 421.2,340.1 423.5,339.7 425.8,339.6 428.2,339.8 430.5,340.2 432.9,340.9 435.2,341.3 437.6,341.6 439.9,342.2 442.3,343.1 444.6,344.1 447.0,345.4 449.3,346.7 451.6,348.1 454.0,349.5 456.3,350.6 458.7,351.8 461.0,353.0 463.4,354.0 465.7,354.8 468.1,355.6 470.4,356.3 472.8,356.9 475.1,357.4 477.5,357.8 479.8,358.1 482.1,358.7 484.5,359.6 486.8,360.1 489.2,360.5 491.5,360.8 493.9,360.9 496.2,361.1 498.6,361.1 500.9,361.1 503.3,361.4 505.6,361.4 508.0,361.2 510.3,360.8 512.6,360.6 515.0,360.4 517.3,360.0 519.7,359.8 522.0,359.5 524.4,358.9 526.7,358.1 529.1,357.0 531.4,355.8 533.8,354.4 536.1,353.0 538.5,351.7 540.8,350.5 543.1,349.3 545.5,348.2 547.8,347.1 550.2,346.2 552.5,345.6 554.9,345.1 557.2,345.0 559.6,344.7 561.9,344.5 564.3,344.4 566.6,344.2 568.9,344.1 571.3,344.2 573.6,344.3 576.0,343.8 578.3,342.7 580.7,341.4 583.0,340.1 585.4,338.6 587.7,336.9 590.1,335.2 592.4,333.6 594.8,331.9 597.1,330.2 599.4,328.1 601.8,325.9 604.1,323.4 606.5,320.9 608.8,318.4 611.2,315.9 613.5,313.7 615.9,311.6 618.2,309.5 620.6,307.6 622.9,306.2 625.3,305.6 627.6,305.1 629.9,304.9 632.3,305.1 634.6,305.4 637.0,305.7 639.3,305.9 641.7,305.9 644.0,305.9 646.4,306.1 648.7,306.3 651.1,306.7 653.4,307.2 655.8,307.6 658.1,308.2 660.4,308.5 662.8,308.6 665.1,308.6 667.5,308.5 669.8,308.2 672.2,307.7 674.5,307.1 676.9,306.2 679.2,304.8 681.6,303.3 683.9,301.7 686.2,300.1 688.6,298.6 690.9,296.9 693.3,295.0 695.6,293.3 698.0,291.6 700.3,290.0 702.7,288.6 705.0,286.8 707.4,285.2 709.7,283.6 712.1,282.0 714.4,280.6 716.7,279.2 719.1,278.1 721.4,277.0 723.8,276.1 726.1,275.5 728.5,275.0 730.8,274.7 733.2,274.5 735.5,274.4 737.9,274.6 740.2,275.0 742.6,275.3 744.9,275.6 747.2,275.6 749.6,275.3 751.9,275.1 754.3,274.9 756.6,274.6 759.0,274.5 761.3,274.5 763.7,274.5 766.0,274.7 768.4,275.1 770.7,275.4 773.1,275.8 775.4,276.4 777.7,276.9 780.1,277.2 782.4,277.3 784.8,277.5 787.1,277.6 789.5,277.7 791.8,277.5 794.2,276.9 796.5,276.2 798.9,275.3 801.2,274.6 803.5,273.9 805.9,273.7 808.2,273.8 810.6,273.7 812.9,273.3 815.3,272.8 817.6,271.8 820.0,270.7 822.3,269.6 824.7,268.5 827.0,267.6 829.4,266.8 831.7,266.0 834.0,265.2 836.4,264.1 838.7,263.2 841.1,262.7 843.4,262.4 845.8,262.3 848.1,262.2 850.5,261.8 852.8,261.2 855.2,260.2 857.5,259.4 859.9,258.7 862.2,259.8 864.5,261.1 866.9,261.8 869.2,262.0 871.6,261.1 873.9,259.7 876.3,258.5 878.6,257.0 881.0,255.3 883.3,253.8 885.7,252.4 888.0,251.0 890.4,249.9 892.7,248.5 895.0,247.0 897.4,245.4 899.7,243.6 902.1,241.6 904.4,239.5 906.8,236.6 909.1,231.6 911.5,226.4 913.8,221.5 916.2,217.1 918.5,213.7 920.8,210.8 923.2,207.5 925.5,204.5 927.9,201.4 930.2,198.3 932.6,195.3 934.9,192.3 937.3,189.4 939.6,186.9 942.0,184.6 944.3,182.7 946.7,180.9 949.0,179.3 951.3,177.8 953.7,176.9 956.0,176.2 958.4,175.8 960.7,175.5 963.1,175.3 965.4,174.9 967.8,174.5 970.1,174.1 972.5,173.6 974.8,173.6 977.2,173.6 979.5,174.1 981.8,174.4 984.2,174.6 986.5,174.5 988.9,174.1 991.2,173.6 993.6,173.0 995.9,172.4 998.3,172.0 1000.6,171.6 1003.0,171.4 1005.3,170.9 1007.7,170.5 1010.0,170.0 1012.3,169.6 1014.7,169.2 1017.0,169.0 1019.4,169.0 1021.7,169.2 1024.1,169.3 1026.4,169.3 1028.8,169.3 1031.1,169.5 1033.5,169.5 1035.8,169.5 1038.1,169.4 1040.5,169.2 1042.8,168.9 1045.2,168.4 1047.5,167.9 1049.9,167.3 1052.2,167.0 1054.6,166.8 1056.9,166.8 1059.3,166.9 1061.6,167.0 1064.0,167.3 1066.3,167.7 1068.6,167.8 1071.0,167.9 1073.3,168.0 1075.7,168.1 1078.0,168.0 1080.4,168.2 1082.7,168.3 1085.1,168.4 1087.4,168.4 1089.8,168.6 1092.1,169.0 1094.5,169.7 1096.8,170.4 1099.1,171.2 1101.5,172.6 1103.8,173.9 1106.2,174.9 1108.5,175.6 1110.9,176.8 1113.2,178.1 1115.6,179.7 1117.9,180.7 1120.3,181.5 1122.6,182.3 1125.0,183.0 1127.3,184.0 1129.6,185.3 1132.0,186.4 1134.3,187.6 1136.7,188.2 1139.0,188.3 1141.4,188.1 1143.7,187.7 1146.1,187.1 1148.4,185.7 1150.8,184.4 1153.1,183.3 1155.4,182.1 1157.8,180.0 1160.1,176.7 1162.5,172.9 1164.8,169.3 1167.2,165.8 1169.5,162.1 1171.9,158.4 1174.2,154.7 1176.6,150.7 1178.9,146.9 1181.3,143.3 1183.6,140.0 1185.9,136.6 1188.3,133.0 1190.6,129.4 1193.0,125.6 1195.3,121.3 1197.7,116.8 1200.0,112.2 1202.4,107.9 1204.7,104.4 1207.1,102.1 1209.4,100.5 1211.8,99.3 1214.1,98.1 1216.4,97.1 1218.8,96.1 1221.1,95.3 1223.5,94.9 1225.8,94.8 1228.2,94.6 1230.5,94.4 1232.9,94.4 1235.2,95.0 1237.6,96.1 1239.9,97.6 1242.2,99.5 1244.6,101.4 1246.9,103.1 1249.3,104.5 1251.6,105.5 1254.0,105.8 1256.3,105.7 1258.7,105.2 1261.0,104.6 1263.4,104.1 1265.7,103.7 1268.1,103.4 1270.4,102.6 1272.7,102.1 1275.1,101.8 1277.4,102.0 1279.8,102.3 1282.1,102.5 1284.5,102.4 1286.8,102.1 1289.2,102.2 1291.5,102.4 1293.9,102.5 1296.2,102.8 1298.6,103.5 1300.9,105.0 1303.2,106.8 1305.6,109.2 1307.9,111.5 1310.3,113.9 1312.6,116.3 1315.0,118.4 1317.3,120.5 1319.7,122.1 1322.0,123.6 1324.4,124.6 1326.7,125.3 1329.1,125.9 1331.4,126.5 1333.7,127.2 1336.1,127.9 1338.4,128.6 1340.8,129.5 1343.1,129.6 1345.5,129.3 1347.8,128.2 1350.2,126.8 1352.5,125.2 1354.9,123.3 1357.2,121.2 1359.5,118.8 1361.9,116.5 1364.2,114.4 1366.6,112.3 1368.9,110.2 1371.3,108.4 1373.6,107.0 1376.0,105.8 1378.3,104.6 1380.7,103.4 1383.0,102.1 1385.4,100.7 1387.7,99.4 1390.0,98.6 1392.4,98.3 1394.7,98.1 1397.1,98.1 1399.4,98.1 1401.8,98.3 1404.1,98.7 1406.5,98.9 1408.8,98.8 1411.2,98.5 1413.5,98.0 1415.9,97.1 1418.2,95.9 1420.5,94.6" fill="none" stroke="#2a2a2a" stroke-width="1"/>
<polyline points="10.0,418.3 14.0,419.5 18.0,420.5 22.0,421.7 26.0,422.8 30.0,423.9 34.0,425.0 38.0,426.2 42.0,427.5 46.0,428.8 50.0,430.1 54.0,431.5 58.0,432.9 62.0,434.3 66.0,435.9 70.0,437.8 74.0,439.8 78.0,441.9 82.0,444.0 86.0,446.1 90.0,448.2 94.0,450.2 98.0,452.2 102.0,454.3 106.0,456.4 110.0,458.8 114.0,461.4 118.0,464.0 122.0,466.6 126.0,469.1 130.0,471.4 134.0,473.5 138.0,475.5 142.0,477.4 146.0,479.2 150.0,480.7 154.0,482.1 158.0,483.3 162.0,484.5 166.0,485.5 170.0,486.3 174.0,487.1 178.0,487.6 182.0,487.9 186.0,488.0 190.0,487.9 194.0,487.6 198.0,487.1 202.0,486.3 206.0,485.3 210.0,484.0 214.0,482.5 218.0,480.9 222.0,479.0 226.0,477.0 230.0,474.8 234.0,472.6 238.0,470.3 242.0,468.0 246.0,465.6 250.0,463.1 254.0,460.5 258.0,457.8 262.0,455.0 266.0,452.0 270.0,448.8 274.0,445.2 278.0,441.6 282.0,438.0 286.0,434.4 290.0,431.1 294.0,427.9 298.0,424.6 302.0,421.2 306.0,417.6 310.0,413.8 314.0,410.0 318.0,406.3 322.0,402.5 326.0,398.8 330.0,395.2 334.0,391.9 338.0,388.6 342.0,385.5 346.0,382.4 350.0,379.6 354.0,377.0 358.0,374.4 362.0,372.0 366.0,369.7 370.0,367.4 374.0,365.1 378.0,362.8 382.0,360.6 386.0,358.3 390.0,356.2 394.0,354.1 398.0,352.2 402.0,350.3 406.0,348.4 410.0,346.7 414.0,344.9 418.0,343.4 422.0,342.0 426.0,341.1 430.0,340.6 434.0,340.5 438.0,340.8 442.0,341.3 446.0,341.9 450.0,342.5 454.0,343.1 458.0,343.9 462.0,344.6 466.0,345.4 470.0,346.2 474.0,346.9 478.0,347.6 482.0,348.3 486.0,349.0 490.0,349.7 494.0,350.4 498.0,351.0 502.0,351.6 506.0,352.1 510.0,352.5 514.0,352.6 518.0,352.7 522.0,352.7 526.0,352.8 530.0,352.8 534.0,352.8 538.0,352.9 542.0,352.9 546.0,352.9 550.0,352.9 554.0,352.8 558.0,352.8 562.0,352.8 566.0,352.8 570.0,352.7 574.0,352.4 578.0,351.8 582.0,350.8 586.0,349.4 590.0,348.0 594.0,346.6 598.0,345.1 602.0,343.5 606.0,341.7 610.0,339.9 614.0,337.9 618.0,336.0 622.0,334.0 626.0,332.1 630.0,330.1 634.0,328.2 638.0,326.4 642.0,324.7 646.0,323.0 650.0,321.4 654.0,319.8 658.0,318.2 662.0,316.5 666.0,314.9 670.0,313.4 674.0,311.9 678.0,310.5 682.0,309.1 686.0,307.7 690.0,306.3 694.0,304.9 698.0,303.5 702.0,302.1 706.0,300.9 710.0,299.6 714.0,298.5 718.0,297.3 722.0,296.1 726.0,294.9 730.0,293.8 734.0,292.7 738.0,291.6 742.0,290.7 746.0,289.9 750.0,289.1 754.0,288.2 758.0,287.4 762.0,286.6 766.0,285.8 770.0,284.8 774.0,283.8 778.0,282.6 782.0,281.5 786.0,280.4 790.0,279.4 794.0,278.6 798.0,277.8 802.0,277.0 806.0,276.3 810.0,275.7 814.0,275.1 818.0,274.5 822.0,273.9 826.0,273.3 830.0,272.7 834.0,272.2 838.0,271.6 842.0,271.0 846.0,270.5 850.0,270.0 854.0,269.4 858.0,268.9 862.0,268.4 866.0,267.7 870.0,267.0 874.0,265.9 878.0,264.7 882.0,263.3 886.0,261.9 890.0,260.4 894.0,258.8 898.0,257.0 902.0,255.0 906.0,252.7 910.0,250.2 914.0,247.4 918.0,244.7 922.0,241.9 926.0,239.2 930.0,236.5 934.0,233.8 938.0,231.1 942.0,228.5 946.0,225.9 950.0,223.4 954.0,221.0 958.0,218.6 962.0,216.2 966.0,213.8 970.0,211.4 974.0,208.9 978.0,206.4 982.0,203.8 986.0,201.2 990.0,198.5 994.0,195.8 998.0,193.2 1002.0,190.6 1006.0,188.2 1010.0,185.8 1014.0,183.6 1018.0,181.7 1022.0,180.0 1026.0,178.5 1030.0,177.1 1034.0,175.9 1038.0,174.8 1042.0,173.7 1046.0,172.8 1050.0,172.0 1054.0,171.4 1058.0,170.9 1062.0,170.5 1066.0,170.2 1070.0,169.9 1074.0,169.7 1078.0,169.5 1082.0,169.5 1086.0,169.5 1090.0,169.6 1094.0,169.8 1098.0,170.1 1102.0,170.6 1106.0,171.2 1110.0,171.9 1114.0,172.7 1118.0,173.5 1122.0,174.3 1126.0,175.0 1130.0,175.5 1134.0,175.5 1138.0,175.2 1142.0,174.8 1146.0,174.4 1150.0,174.0 1154.0,173.4 1158.0,172.4 1162.0,171.1 1166.0,169.6 1170.0,167.9 1174.0,166.3 1178.0,164.7 1182.0,163.2 1186.0,161.8 1190.0,160.3 1194.0,158.8 1198.0,157.2 1202.0,155.3 1206.0,153.1 1210.0,150.8 1214.0,148.5 1218.0,146.3 1222.0,144.1 1226.0,142.0 1230.0,139.8 1234.0,137.5 1238.0,135.0 1242.0,132.5 1246.0,129.9 1250.0,127.2 1254.0,124.4 1258.0,121.5 1262.0,118.7 1266.0,116.0 1270.0,113.6 1274.0,111.4 1278.0,109.4 1282.0,107.7 1286.0,106.3 1290.0,105.3 1294.0,104.6 1298.0,104.0 1302.0,103.8 1306.0,104.0 1310.0,104.3 1314.0,104.8 1318.0,105.3 1322.0,106.0 1326.0,106.7 1330.0,107.7 1334.0,109.1 1338.0,110.6 1342.0,112.0 1346.0,112.7 1350.0,112.8 1354.0,112.7 1358.0,112.6 1362.0,112.4 1366.0,112.1 1370.0,111.7 1374.0,111.4 1378.0,111.2 1382.0,111.0 1386.0,111.0 1390.0,111.1 1394.0,111.3 1398.0,111.4 1402.0,111.4 1406.0,111.2 1410.0,110.6 1414.0,109.9 1418.0,109.3 1421.0,108.5" fill="none" stroke="#1c1c1c" stroke-width="0.95"/>
<polyline points="10.0,404.3 14.0,404.8 18.0,405.1 22.0,405.6 26.0,406.0 30.0,406.5 34.0,407.2 38.0,408.1 42.0,409.2 46.0,410.3 50.0,411.4 54.0,412.4 58.0,413.5 62.0,414.7 66.0,415.9 70.0,417.4 74.0,419.0 78.0,420.7 82.0,422.4 86.0,424.1 90.0,425.8 94.0,427.4 98.0,429.1 102.0,430.8 106.0,432.4 110.0,434.0 114.0,435.6 118.0,437.3 122.0,438.9 126.0,440.5 130.0,442.0 134.0,443.4 138.0,444.7 142.0,445.9 146.0,447.1 150.0,448.3 154.0,449.5 158.0,450.7 162.0,451.8 166.0,452.9 170.0,453.8 174.0,454.6 178.0,455.4 182.0,456.2 186.0,456.9 190.0,457.6 194.0,458.2 198.0,458.7 202.0,459.0 206.0,459.4 210.0,459.7 214.0,460.0 218.0,460.3 222.0,460.4 226.0,460.6 230.0,460.7 234.0,460.8 238.0,460.8 242.0,460.8 246.0,460.6 250.0,460.4 254.0,460.1 258.0,459.9 262.0,459.6 266.0,459.2 270.0,458.8 274.0,458.2 278.0,457.6 282.0,457.0 286.0,456.4 290.0,455.7 294.0,454.8 298.0,453.8 302.0,452.7 306.0,451.5 310.0,450.3 314.0,449.0 318.0,447.6 322.0,446.0 326.0,444.2 330.0,442.4 334.0,440.6 338.0,438.8 342.0,436.9 346.0,435.1 350.0,433.0 354.0,430.8 358.0,428.5 362.0,426.0 366.0,423.6 370.0,421.2 374.0,418.8 378.0,416.3 382.0,413.8 386.0,411.2 390.0,408.5 394.0,405.8 398.0,403.0 402.0,400.3 406.0,397.5 410.0,394.8 414.0,392.3 418.0,390.0 422.0,388.0 426.0,386.2 430.0,384.5 434.0,382.8 438.0,381.1 442.0,379.4 446.0,377.8 450.0,376.3 454.0,375.1 458.0,374.0 462.0,373.0 466.0,372.0 470.0,371.0 474.0,370.0 478.0,369.0 482.0,368.0 486.0,367.0 490.0,366.0 494.0,365.0 498.0,363.9 502.0,362.9 506.0,361.9 510.0,360.8 514.0,359.7 518.0,358.6 522.0,357.4 526.0,356.3 530.0,355.2 534.0,354.2 538.0,353.2 542.0,352.2 546.0,351.3 550.0,350.4 554.0,349.5 558.0,348.7 562.0,347.8 566.0,346.9 570.0,346.2 574.0,345.7 578.0,345.2 582.0,344.8 586.0,344.4 590.0,344.0 594.0,343.6 598.0,343.2 602.0,342.8 606.0,342.3 610.0,341.8 614.0,341.3 618.0,340.8 622.0,340.2 626.0,339.7 630.0,339.2 634.0,338.7 638.0,338.1 642.0,337.5 646.0,336.9 650.0,336.3 654.0,335.7 658.0,335.1 662.0,334.5 666.0,333.9 670.0,333.2 674.0,332.6 678.0,331.8 682.0,331.1 686.0,330.4 690.0,329.7 694.0,328.9 698.0,328.2 702.0,327.4 706.0,326.4 710.0,325.4 714.0,324.4 718.0,323.3 722.0,322.3 726.0,321.2 730.0,320.1 734.0,319.1 738.0,317.9 742.0,316.8 746.0,315.6 750.0,314.4 754.0,313.1 758.0,311.9 762.0,310.7 766.0,309.5 770.0,308.4 774.0,307.3 778.0,306.3 782.0,305.3 786.0,304.3 790.0,303.3 794.0,302.3 798.0,301.2 802.0,300.2 806.0,299.1 810.0,297.9 814.0,296.8 818.0,295.6 822.0,294.4 826.0,293.2 830.0,292.0 834.0,290.8 838.0,289.5 842.0,288.1 846.0,286.6 850.0,285.2 854.0,284.0 858.0,282.9 862.0,281.9 866.0,280.9 870.0,279.9 874.0,278.8 878.0,277.6 882.0,276.4 886.0,275.2 890.0,273.9 894.0,272.7 898.0,271.5 902.0,270.1 906.0,268.5 910.0,266.7 914.0,264.8 918.0,262.9 922.0,261.1 926.0,259.2 930.0,257.3 934.0,255.5 938.0,253.9 942.0,252.5 946.0,251.2 950.0,249.8 954.0,248.3 958.0,246.8 962.0,245.2 966.0,243.6 970.0,241.9 974.0,240.3 978.0,238.7 982.0,237.1 986.0,235.5 990.0,233.8 994.0,232.2 998.0,230.5 1002.0,228.9 1006.0,227.2 1010.0,225.6 1014.0,224.0 1018.0,222.4 1022.0,220.8 1026.0,219.2 1030.0,217.7 1034.0,216.2 1038.0,214.6 1042.0,213.1 1046.0,211.6 1050.0,210.1 1054.0,208.8 1058.0,207.6 1062.0,206.4 1066.0,205.2 1070.0,203.9 1074.0,202.7 1078.0,201.5 1082.0,200.3 1086.0,199.1 1090.0,197.9 1094.0,196.8 1098.0,195.5 1102.0,194.2 1106.0,192.9 1110.0,191.5 1114.0,190.0 1118.0,188.6 1122.0,187.2 1126.0,185.8 1130.0,184.4 1134.0,183.0 1138.0,181.6 1142.0,180.2 1146.0,178.9 1150.0,177.5 1154.0,176.1 1158.0,174.8 1162.0,173.4 1166.0,172.1 1170.0,170.8 1174.0,169.6 1178.0,168.4 1182.0,167.2 1186.0,165.9 1190.0,164.7 1194.0,163.5 1198.0,162.4 1202.0,161.2 1206.0,160.2 1210.0,159.2 1214.0,158.1 1218.0,157.1 1222.0,156.1 1226.0,155.1 1230.0,154.1 1234.0,153.1 1238.0,152.2 1242.0,151.4 1246.0,150.5 1250.0,149.7 1254.0,148.8 1258.0,147.9 1262.0,147.1 1266.0,146.3 1270.0,145.5 1274.0,144.7 1278.0,144.0 1282.0,143.3 1286.0,142.5 1290.0,141.8 1294.0,141.1 1298.0,140.3 1302.0,139.4 1306.0,138.5 1310.0,137.5 1314.0,136.5 1318.0,135.5 1322.0,134.5 1326.0,133.5 1330.0,132.4 1334.0,131.4 1338.0,130.4 1342.0,129.3 1346.0,128.3 1350.0,127.2 1354.0,126.1 1358.0,125.1 1362.0,124.0 1366.0,123.0 1370.0,121.9 1374.0,120.9 1378.0,119.8 1382.0,118.7 1386.0,117.7 1390.0,116.6 1394.0,115.6 1398.0,114.5 1402.0,113.4 1406.0,112.4 1410.0,111.3 1414.0,110.2 1418.0,109.3 1421.0,108.3" fill="none" stroke="#b0b0b0" stroke-width="1.05"/>
<polyline points="10.0,394.0 14.0,394.7 18.0,395.2 22.0,395.8 26.0,396.4 30.0,397.0 34.0,397.6 38.0,398.2 42.0,398.8 46.0,399.4 50.0,400.1 54.0,400.9 58.0,401.8 62.0,402.7 66.0,403.5 70.0,404.4 74.0,405.3 78.0,406.2 82.0,407.1 86.0,408.1 90.0,409.1 94.0,410.1 98.0,411.1 102.0,412.2 106.0,413.2 110.0,414.2 114.0,415.2 118.0,416.1 122.0,416.9 126.0,417.7 130.0,418.5 134.0,419.2 138.0,420.0 142.0,420.8 146.0,421.5 150.0,422.2 154.0,422.9 158.0,423.5 162.0,424.1 166.0,424.7 170.0,425.3 174.0,425.9 178.0,426.5 182.0,427.1 186.0,427.6 190.0,428.0 194.0,428.4 198.0,428.8 202.0,429.2 206.0,429.6 210.0,430.0 214.0,430.4 218.0,430.7 222.0,430.9 226.0,431.1 230.0,431.2 234.0,431.4 238.0,431.5 242.0,431.7 246.0,431.8 250.0,431.9 254.0,431.8 258.0,431.7 262.0,431.6 266.0,431.4 270.0,431.2 274.0,431.0 278.0,430.7 282.0,430.3 286.0,429.8 290.0,429.3 294.0,428.8 298.0,428.3 302.0,427.8 306.0,427.3 310.0,426.8 314.0,426.3 318.0,425.8 322.0,425.3 326.0,424.9 330.0,424.4 334.0,423.9 338.0,423.5 342.0,423.1 346.0,422.7 350.0,422.4 354.0,422.0 358.0,421.6 362.0,421.2 366.0,420.8 370.0,420.5 374.0,420.3 378.0,420.0 382.0,419.8 386.0,419.5 390.0,419.3 394.0,419.1 398.0,418.8 402.0,418.6 406.0,418.3 410.0,418.1 414.0,417.9 418.0,417.6 422.0,417.4 426.0,417.1 430.0,416.9 434.0,416.6 438.0,416.3 442.0,416.0 446.0,415.7 450.0,415.4 454.0,415.1 458.0,414.7 462.0,414.4 466.0,414.1 470.0,413.7 474.0,413.3 478.0,412.9 482.0,412.4 486.0,412.0 490.0,411.5 494.0,411.0 498.0,410.6 502.0,410.1 506.0,409.7 510.0,409.3 514.0,408.9 518.0,408.5 522.0,408.2 526.0,407.8 530.0,407.4 534.0,407.0 538.0,406.5 542.0,406.1 546.0,405.6 550.0,405.1 554.0,404.6 558.0,404.2 562.0,403.7 566.0,403.1 570.0,402.6 574.0,401.9 578.0,401.1 582.0,400.3 586.0,399.5 590.0,398.6 594.0,397.8 598.0,397.0 602.0,396.2 606.0,395.3 610.0,394.4 614.0,393.5 618.0,392.6 622.0,391.7 626.0,390.8 630.0,389.9 634.0,388.9 638.0,387.9 642.0,386.8 646.0,385.6 650.0,384.4 654.0,383.1 658.0,381.9 662.0,380.7 666.0,379.5 670.0,378.2 674.0,376.8 678.0,375.3 682.0,373.8 686.0,372.3 690.0,370.8 694.0,369.4 698.0,367.9 702.0,366.4 706.0,364.9 710.0,363.4 714.0,361.9 718.0,360.4 722.0,358.9 726.0,357.4 730.0,355.9 734.0,354.5 738.0,353.1 742.0,351.7 746.0,350.4 750.0,349.1 754.0,347.8 758.0,346.6 762.0,345.3 766.0,344.0 770.0,342.7 774.0,341.4 778.0,340.0 782.0,338.7 786.0,337.4 790.0,336.0 794.0,334.7 798.0,333.4 802.0,332.1 806.0,330.8 810.0,329.6 814.0,328.5 818.0,327.3 822.0,326.1 826.0,324.9 830.0,323.8 834.0,322.6 838.0,321.5 842.0,320.4 846.0,319.4 850.0,318.4 854.0,317.4 858.0,316.4 862.0,315.3 866.0,314.3 870.0,313.4 874.0,312.4 878.0,311.5 882.0,310.6 886.0,309.8 890.0,308.9 894.0,308.0 898.0,307.1 902.0,306.2 906.0,305.2 910.0,304.2 914.0,303.1 918.0,302.1 922.0,301.0 926.0,300.0 930.0,299.0 934.0,297.9 938.0,296.9 942.0,295.8 946.0,294.8 950.0,293.7 954.0,292.6 958.0,291.5 962.0,290.4 966.0,289.2 970.0,288.1 974.0,287.0 978.0,285.9 982.0,284.7 986.0,283.6 990.0,282.5 994.0,281.4 998.0,280.2 1002.0,279.0 1006.0,277.7 1010.0,276.4 1014.0,275.1 1018.0,273.8 1022.0,272.5 1026.0,271.2 1030.0,269.9 1034.0,268.5 1038.0,267.2 1042.0,265.9 1046.0,264.6 1050.0,263.3 1054.0,262.1 1058.0,260.9 1062.0,259.7 1066.0,258.5 1070.0,257.3 1074.0,256.1 1078.0,254.9 1082.0,253.7 1086.0,252.5 1090.0,251.3 1094.0,250.1 1098.0,248.9 1102.0,247.7 1106.0,246.5 1110.0,245.3 1114.0,244.1 1118.0,242.9 1122.0,241.7 1126.0,240.5 1130.0,239.3 1134.0,238.1 1138.0,236.9 1142.0,235.7 1146.0,234.5 1150.0,233.2 1154.0,232.0 1158.0,230.6 1162.0,229.3 1166.0,228.0 1170.0,226.7 1174.0,225.3 1178.0,224.0 1182.0,222.7 1186.0,221.3 1190.0,220.0 1194.0,218.7 1198.0,217.4 1202.0,216.0 1206.0,214.7 1210.0,213.4 1214.0,212.0 1218.0,210.7 1222.0,209.4 1226.0,208.0 1230.0,206.7 1234.0,205.3 1238.0,204.0 1242.0,202.7 1246.0,201.3 1250.0,200.1 1254.0,198.8 1258.0,197.6 1262.0,196.4 1266.0,195.2 1270.0,193.9 1274.0,192.7 1278.0,191.5 1282.0,190.3 1286.0,189.0 1290.0,187.8 1294.0,186.5 1298.0,185.3 1302.0,184.0 1306.0,182.8 1310.0,181.5 1314.0,180.3 1318.0,179.0 1322.0,177.8 1326.0,176.6 1330.0,175.4 1334.0,174.1 1338.0,172.9 1342.0,171.7 1346.0,170.5 1350.0,169.3 1354.0,168.2 1358.0,167.0 1362.0,165.9 1366.0,164.8 1370.0,163.7 1374.0,162.5 1378.0,161.4 1382.0,160.3 1386.0,159.3 1390.0,158.3 1394.0,157.4 1398.0,156.4 1402.0,155.5 1406.0,154.6 1410.0,153.6 1414.0,152.7 1418.0,151.9 1421.0,151.0" fill="none" stroke="#2c2c2c" stroke-width="1.05"/>
<path d="M12.9 652.5V650.5M17.6 652.5V653.5M29.4 652.5V649.1M31.7 652.5V648.3M38.8 652.5V648.6M41.1 652.5V648.8M43.4 652.5V649.5M48.1 652.5V655.0M52.8 652.5V658.6M57.5 652.5V666.3M62.2 652.5V671.5M64.6 652.5V669.6M66.9 652.5V666.2M71.6 652.5V661.2M73.9 652.5V660.7M76.3 652.5V661.9M78.6 652.5V662.9M81.0 652.5V663.7M88.0 652.5V657.2M99.7 652.5V665.9M102.1 652.5V668.2M109.1 652.5V659.9M111.5 652.5V657.5M123.2 652.5V645.9M125.6 652.5V642.2M130.2 652.5V636.9M132.6 652.5V635.1M134.9 652.5V632.0M139.6 652.5V627.0M142.0 652.5V625.2M146.7 652.5V625.4M151.4 652.5V626.1M153.7 652.5V627.2M156.1 652.5V630.0M158.4 652.5V632.3M160.7 652.5V634.1M172.5 652.5V641.0M174.8 652.5V642.0M181.9 652.5V639.5M184.2 652.5V638.3M186.6 652.5V637.4M191.2 652.5V641.2M193.6 652.5V642.8M195.9 652.5V644.1M203.0 652.5V642.0M207.7 652.5V647.4M210.0 652.5V651.7M212.4 652.5V655.1M214.7 652.5V657.9M224.1 652.5V649.5M226.4 652.5V648.2M228.8 652.5V649.6M231.1 652.5V651.4M235.8 652.5V654.0M238.2 652.5V656.2M240.5 652.5V659.2M242.9 652.5V661.6M249.9 652.5V663.1M254.6 652.5V658.2M259.3 652.5V650.1M261.6 652.5V647.2M268.7 652.5V647.4M273.4 652.5V648.3M278.0 652.5V650.9M280.4 652.5V655.4M282.7 652.5V658.9M285.1 652.5V661.8M289.8 652.5V662.9M292.1 652.5V662.4M294.5 652.5V661.9M301.5 652.5V633.0M303.9 652.5V630.3M306.2 652.5V629.2M308.5 652.5V628.4M315.6 652.5V632.5M317.9 652.5V633.1M329.7 652.5V646.5M332.0 652.5V653.3M334.3 652.5V659.4M336.7 652.5V664.3M339.0 652.5V669.3M341.4 652.5V673.5M343.7 652.5V676.8M346.1 652.5V679.4M350.8 652.5V682.9M353.1 652.5V683.8M357.8 652.5V675.9M360.2 652.5V673.1M362.5 652.5V670.9M364.8 652.5V670.4M371.9 652.5V666.7M378.9 652.5V657.3M381.3 652.5V656.1M386.0 652.5V655.5M388.3 652.5V655.3M390.7 652.5V655.1M393.0 652.5V654.9M395.3 652.5V654.8M397.7 652.5V654.7M400.0 652.5V654.6M409.4 652.5V648.6M411.8 652.5V649.6M418.8 652.5V653.1M425.8 652.5V657.9M430.5 652.5V660.2M432.9 652.5V661.8M437.6 652.5V664.1M442.3 652.5V665.1M444.6 652.5V665.2M449.3 652.5V663.5M454.0 652.5V658.3M456.3 652.5V656.4M458.7 652.5V654.9M461.0 652.5V653.2M463.4 652.5V651.2M468.1 652.5V648.3M470.4 652.5V647.5M475.1 652.5V648.1M477.5 652.5V648.4M482.1 652.5V650.9M486.8 652.5V654.7M489.2 652.5V656.0M493.9 652.5V655.5M503.3 652.5V649.4M508.0 652.5V644.1M515.0 652.5V639.5M517.3 652.5V638.7M519.7 652.5V638.9M522.0 652.5V639.1M524.4 652.5V639.3M526.7 652.5V639.4M529.1 652.5V641.5M531.4 652.5V643.4M536.1 652.5V646.2M540.8 652.5V649.8M543.1 652.5V651.2M547.8 652.5V653.4M552.5 652.5V655.3M554.9 652.5V656.0M557.2 652.5V656.5M559.6 652.5V657.0M564.3 652.5V657.6M568.9 652.5V658.0M571.3 652.5V653.8M576.0 652.5V641.4M578.3 652.5V637.1M585.4 652.5V635.3M587.7 652.5V635.6M590.1 652.5V635.9M599.4 652.5V642.3M604.1 652.5V645.1M608.8 652.5V650.0M611.2 652.5V651.8M615.9 652.5V657.5M618.2 652.5V660.5M620.6 652.5V662.9M622.9 652.5V664.8M625.3 652.5V666.1M634.6 652.5V667.6M637.0 652.5V666.1M639.3 652.5V664.9M646.4 652.5V658.8M648.7 652.5V656.3M651.1 652.5V654.3M655.8 652.5V653.3M660.4 652.5V653.7M662.8 652.5V653.8M665.1 652.5V651.9M667.5 652.5V650.1M676.9 652.5V646.0M679.2 652.5V645.4M686.2 652.5V642.7M688.6 652.5V641.5M690.9 652.5V640.6M693.3 652.5V639.8M695.6 652.5V640.7M700.3 652.5V649.2M709.7 652.5V655.5M712.1 652.5V656.1M719.1 652.5V657.9M726.1 652.5V659.9M730.8 652.5V661.3M733.2 652.5V661.7M735.5 652.5V660.9M737.9 652.5V660.2M742.6 652.5V659.3M744.9 652.5V657.5M747.2 652.5V655.7M749.6 652.5V654.3M751.9 652.5V653.2M754.3 652.5V653.4M756.6 652.5V654.5M761.3 652.5V656.0M763.7 652.5V656.8M766.0 652.5V658.2M768.4 652.5V659.3M773.1 652.5V660.9M775.4 652.5V660.9M777.7 652.5V660.9M780.1 652.5V660.9M782.4 652.5V659.9M784.8 652.5V655.0M787.1 652.5V651.1M796.5 652.5V634.2M798.9 652.5V639.4M801.2 652.5V643.6M815.3 652.5V653.3M820.0 652.5V651.8M824.7 652.5V653.9M827.0 652.5V654.6M841.1 652.5V646.8M843.4 652.5V647.0M845.8 652.5V647.2M850.5 652.5V650.3M855.2 652.5V653.2M862.2 652.5V664.0M864.5 652.5V666.9M866.9 652.5V668.7M869.2 652.5V659.7M873.9 652.5V646.1M876.3 652.5V641.8M881.0 652.5V635.5M883.3 652.5V633.8M897.4 652.5V639.6M902.1 652.5V639.7M906.8 652.5V633.3M909.1 652.5V630.3M911.5 652.5V627.9M916.2 652.5V635.0M918.5 652.5V639.9M920.8 652.5V642.1M925.5 652.5V639.3M927.9 652.5V638.3M937.3 652.5V659.5M939.6 652.5V668.3M942.0 652.5V675.3M944.3 652.5V680.9M951.3 652.5V674.2M953.7 652.5V670.1M956.0 652.5V666.9M958.4 652.5V664.3M965.4 652.5V657.5M970.1 652.5V653.1M977.2 652.5V657.6M979.5 652.5V659.5M984.2 652.5V661.2M988.9 652.5V660.1M991.2 652.5V659.7M993.6 652.5V659.3M998.3 652.5V658.9M1000.6 652.5V658.4M1012.3 652.5V654.4M1017.0 652.5V653.8M1019.4 652.5V656.1M1021.7 652.5V658.0M1024.1 652.5V659.5M1026.4 652.5V660.7M1028.8 652.5V661.7M1031.1 652.5V660.6M1035.8 652.5V655.4M1040.5 652.5V651.9M1042.8 652.5V649.9M1045.2 652.5V648.3M1049.9 652.5V646.0M1052.2 652.5V649.0M1054.6 652.5V651.6M1059.3 652.5V655.4M1061.6 652.5V656.7M1068.6 652.5V660.0M1071.0 652.5V660.8M1073.3 652.5V661.4M1075.7 652.5V661.8M1078.0 652.5V660.3M1082.7 652.5V653.8M1094.5 652.5V656.4M1096.8 652.5V658.1M1101.5 652.5V664.9M1103.8 652.5V667.4M1110.9 652.5V669.5M1113.2 652.5V669.2M1120.3 652.5V657.2M1125.0 652.5V649.1M1127.3 652.5V648.7M1129.6 652.5V648.4M1134.3 652.5V641.2M1136.7 652.5V635.6M1141.4 652.5V629.6M1146.1 652.5V629.9M1150.8 652.5V629.3M1153.1 652.5V626.9M1155.4 652.5V625.0M1160.1 652.5V622.9M1162.5 652.5V622.6M1164.8 652.5V622.3M1167.2 652.5V622.4M1169.5 652.5V626.4M1178.9 652.5V643.9M1185.9 652.5V643.0M1188.3 652.5V640.5M1193.0 652.5V635.6M1197.7 652.5V631.8M1202.4 652.5V645.0M1204.7 652.5V653.9M1209.4 652.5V669.2M1211.8 652.5V674.7M1218.8 652.5V681.3M1221.1 652.5V682.4M1225.8 652.5V681.8M1228.2 652.5V680.9M1230.5 652.5V680.2M1232.9 652.5V679.7M1235.2 652.5V675.1M1239.9 652.5V668.1M1242.2 652.5V665.6M1244.6 652.5V660.7M1246.9 652.5V655.3M1251.6 652.5V647.5M1254.0 652.5V645.2M1263.4 652.5V642.7M1268.1 652.5V656.8M1272.7 652.5V665.4M1279.8 652.5V670.5M1286.8 652.5V665.0M1289.2 652.5V663.7M1291.5 652.5V661.9M1293.9 652.5V660.0M1300.9 652.5V658.8M1303.2 652.5V663.8M1307.9 652.5V669.0M1312.6 652.5V665.3M1319.7 652.5V658.6M1326.7 652.5V651.1M1331.4 652.5V646.1M1336.1 652.5V642.8M1340.8 652.5V638.8M1345.5 652.5V635.8M1347.8 652.5V632.3M1352.5 652.5V619.0M1354.9 652.5V619.3M1357.2 652.5V620.9M1364.2 652.5V641.4M1366.6 652.5V646.5M1368.9 652.5V649.2M1385.4 652.5V658.4M1387.7 652.5V659.0M1390.0 652.5V659.2M1392.4 652.5V659.4M1397.1 652.5V659.5M1399.4 652.5V657.2M1401.8 652.5V655.4M1404.1 652.5V654.0M1408.8 652.5V649.5M1411.2 652.5V646.2M1413.5 652.5V643.5M1415.9 652.5V642.0M1418.2 652.5V642.1" stroke="#2a2a2a" stroke-width="1" fill="none"/>
<path d="M10.6 652.5V648.5M20.0 652.5V654.5M24.7 652.5V651.2M27.0 652.5V650.0M34.1 652.5V648.1M36.4 652.5V648.4M50.5 652.5V657.0M55.2 652.5V662.8M59.9 652.5V669.2M69.2 652.5V663.4M83.3 652.5V663.8M85.7 652.5V660.1M90.4 652.5V654.9M92.7 652.5V655.0M95.1 652.5V659.5M97.4 652.5V663.1M104.4 652.5V666.5M106.8 652.5V662.8M113.8 652.5V655.1M118.5 652.5V649.6M120.9 652.5V647.7M127.9 652.5V639.3M137.3 652.5V629.2M144.3 652.5V624.9M149.0 652.5V625.8M163.1 652.5V635.6M165.4 652.5V636.7M167.8 652.5V638.0M170.1 652.5V639.6M177.2 652.5V642.7M179.5 652.5V640.9M188.9 652.5V639.2M198.3 652.5V644.0M200.6 652.5V642.9M205.3 652.5V642.1M217.0 652.5V655.6M221.7 652.5V651.1M245.2 652.5V663.6M247.5 652.5V664.5M252.2 652.5V662.1M256.9 652.5V653.7M264.0 652.5V646.0M266.3 652.5V646.8M271.0 652.5V647.9M275.7 652.5V648.6M287.4 652.5V663.6M299.2 652.5V641.5M310.9 652.5V628.8M313.2 652.5V630.8M320.3 652.5V632.4M322.6 652.5V631.8M325.0 652.5V637.0M327.3 652.5V642.3M348.4 652.5V681.4M355.5 652.5V679.4M367.2 652.5V670.4M369.5 652.5V670.4M374.2 652.5V662.9M376.6 652.5V659.8M383.6 652.5V655.7M404.7 652.5V651.0M407.1 652.5V649.7M414.1 652.5V651.1M421.2 652.5V654.6M423.5 652.5V656.4M428.2 652.5V659.0M435.2 652.5V663.1M439.9 652.5V665.0M447.0 652.5V665.3M451.6 652.5V660.6M465.7 652.5V649.6M472.8 652.5V647.8M479.8 652.5V648.6M491.5 652.5V657.1M496.2 652.5V653.5M500.9 652.5V650.7M505.6 652.5V646.5M510.3 652.5V642.2M512.6 652.5V640.7M533.8 652.5V645.0M538.5 652.5V647.9M550.2 652.5V654.5M561.9 652.5V657.3M566.6 652.5V657.8M573.6 652.5V646.9M580.7 652.5V634.5M583.0 652.5V635.0M592.4 652.5V638.1M594.8 652.5V639.8M597.1 652.5V641.2M601.8 652.5V643.2M606.5 652.5V647.8M613.5 652.5V653.8M627.6 652.5V667.1M629.9 652.5V668.0M632.3 652.5V668.6M641.7 652.5V663.9M644.0 652.5V661.9M658.1 652.5V653.5M669.8 652.5V648.7M672.2 652.5V647.6M674.5 652.5V646.7M681.6 652.5V645.0M683.9 652.5V644.1M698.0 652.5V645.4M705.0 652.5V653.6M707.4 652.5V654.7M714.4 652.5V656.8M716.7 652.5V657.4M721.4 652.5V658.4M723.8 652.5V658.9M728.5 652.5V660.7M740.2 652.5V659.7M759.0 652.5V655.3M770.7 652.5V660.2M789.5 652.5V647.9M791.8 652.5V640.3M794.2 652.5V632.8M803.5 652.5V647.2M805.9 652.5V650.9M808.2 652.5V653.9M810.6 652.5V655.5M812.9 652.5V654.2M829.4 652.5V655.2M831.7 652.5V653.3M834.0 652.5V650.9M836.4 652.5V649.0M838.7 652.5V647.4M848.1 652.5V648.4M857.5 652.5V654.2M859.9 652.5V659.0M878.6 652.5V638.3M885.7 652.5V635.6M888.0 652.5V637.1M890.4 652.5V638.3M892.7 652.5V639.3M895.0 652.5V639.5M899.7 652.5V639.6M904.4 652.5V637.1M913.8 652.5V628.8M923.2 652.5V640.5M930.2 652.5V645.0M932.6 652.5V650.6M934.9 652.5V655.2M946.7 652.5V680.4M949.0 652.5V677.8M960.7 652.5V662.2M963.1 652.5V660.5M967.8 652.5V655.1M974.8 652.5V655.3M981.8 652.5V660.9M986.5 652.5V660.6M995.9 652.5V659.1M1003.0 652.5V657.2M1005.3 652.5V656.3M1007.7 652.5V655.5M1010.0 652.5V654.9M1014.7 652.5V654.0M1033.5 652.5V657.7M1038.1 652.5V653.5M1047.5 652.5V647.0M1056.9 652.5V653.7M1064.0 652.5V657.9M1066.3 652.5V659.1M1080.4 652.5V656.7M1085.1 652.5V651.5M1087.4 652.5V649.7M1089.8 652.5V651.6M1092.1 652.5V654.3M1099.1 652.5V661.8M1106.2 652.5V669.4M1108.5 652.5V669.8M1115.6 652.5V669.0M1117.9 652.5V665.4M1122.6 652.5V650.6M1132.0 652.5V648.1M1139.0 652.5V631.2M1143.7 652.5V629.8M1148.4 652.5V630.1M1157.8 652.5V623.5M1171.9 652.5V629.5M1174.2 652.5V634.1M1176.6 652.5V639.5M1181.3 652.5V647.4M1183.6 652.5V646.0M1190.6 652.5V638.2M1195.3 652.5V633.5M1200.0 652.5V638.4M1207.1 652.5V662.4M1214.1 652.5V678.1M1216.4 652.5V679.9M1223.5 652.5V682.9M1237.6 652.5V671.2M1249.3 652.5V651.0M1256.3 652.5V643.9M1258.7 652.5V642.9M1261.0 652.5V642.1M1265.7 652.5V650.5M1270.4 652.5V661.8M1275.1 652.5V667.5M1277.4 652.5V669.2M1282.1 652.5V668.5M1284.5 652.5V666.5M1296.2 652.5V658.5M1298.6 652.5V657.3M1305.6 652.5V667.8M1310.3 652.5V666.9M1315.0 652.5V664.0M1317.3 652.5V662.5M1322.0 652.5V655.5M1329.1 652.5V648.4M1333.7 652.5V644.3M1338.4 652.5V640.8M1343.1 652.5V637.1M1350.2 652.5V624.9M1359.5 652.5V627.4M1361.9 652.5V635.2M1371.3 652.5V651.1M1376.0 652.5V653.8M1378.3 652.5V655.2M1380.7 652.5V656.5M1383.0 652.5V657.6M1394.7 652.5V659.5M1420.5 652.5V642.1" stroke="#777" stroke-width="1.1" fill="none"/>
<polyline points="10.6,660.2 12.9,661.0 15.3,661.7 17.6,662.5 20.0,663.3 22.3,662.4 24.7,661.5 27.0,660.6 29.4,659.7 31.7,658.8 34.1,658.1 36.4,657.8 38.8,657.4 41.1,657.0 43.4,657.0 45.8,658.5 48.1,660.1 50.5,661.6 52.8,663.2 55.2,666.6 57.5,670.1 59.9,673.6 62.2,677.1 64.6,678.3 66.9,678.3 69.2,678.3 71.6,678.3 73.9,679.0 76.3,680.8 78.6,682.6 81.0,684.4 83.3,685.9 85.7,685.0 88.0,684.2 90.4,683.3 92.7,683.6 95.1,686.8 97.4,689.9 99.7,693.0 102.1,696.1 104.4,697.0 106.8,696.4 109.1,695.9 111.5,695.4 113.8,694.4 116.2,692.9 118.5,691.3 120.9,689.7 123.2,688.0 125.6,684.9 127.9,681.8 130.2,678.7 132.6,675.5 134.9,671.5 137.3,667.2 139.6,662.9 142.0,658.6 144.3,654.9 146.7,651.8 149.0,648.6 151.4,645.5 153.7,642.9 156.1,641.5 158.4,640.1 160.7,638.7 163.1,637.3 165.4,635.9 167.8,634.7 170.1,634.0 172.5,633.2 174.8,632.4 177.2,631.5 179.5,629.2 181.9,626.8 184.2,624.5 186.6,622.2 188.9,621.4 191.2,621.0 193.6,620.6 195.9,620.2 198.3,619.0 200.6,617.3 203.0,615.5 205.3,614.3 207.7,616.3 210.0,618.4 212.4,620.4 214.7,622.4 217.0,621.7 219.4,620.5 221.7,619.3 224.1,618.2 226.4,617.0 228.8,617.3 231.1,618.1 233.5,618.8 235.8,619.6 238.2,621.2 240.5,623.5 242.9,625.9 245.2,628.2 247.5,630.2 249.9,630.8 252.2,631.5 254.6,630.3 256.9,628.2 259.3,626.1 261.6,623.9 264.0,622.6 266.3,622.2 268.7,621.9 271.0,621.6 273.4,621.2 275.7,620.9 278.0,621.8 280.4,624.4 282.7,627.0 285.1,629.6 287.4,631.9 289.8,632.8 292.1,633.8 294.5,634.8 296.8,629.8 299.2,623.1 301.5,616.4 303.9,612.3 306.2,608.9 308.5,605.4 310.9,602.7 313.2,601.0 315.6,599.3 317.9,597.2 320.3,594.3 322.6,591.5 325.0,592.1 327.3,593.5 329.7,594.8 332.0,598.3 334.3,602.3 336.7,606.2 339.0,610.8 341.4,615.5 343.7,620.2 346.1,624.9 348.4,629.5 350.8,634.0 353.1,638.4 355.5,639.5 357.8,640.7 360.2,641.9 362.5,643.0 364.8,645.1 367.2,647.3 369.5,649.6 371.9,649.5 374.2,648.9 376.6,648.2 378.9,647.6 381.3,647.4 383.6,647.7 386.0,647.9 388.3,648.1 390.7,648.4 393.0,648.6 395.3,648.8 397.7,649.1 400.0,649.3 402.4,648.3 404.7,647.3 407.1,646.3 409.4,645.2 411.8,645.4 414.1,645.9 416.5,646.5 418.8,647.0 421.2,648.0 423.5,649.4 425.8,650.8 428.2,652.2 430.5,653.7 432.9,655.7 435.2,657.7 437.6,659.7 439.9,661.6 442.3,663.3 444.6,664.9 447.0,666.6 449.3,667.1 451.6,666.6 454.0,666.2 456.3,665.7 458.7,665.3 461.0,664.5 463.4,663.3 465.7,662.1 468.1,661.0 470.4,659.9 472.8,659.5 475.1,659.1 477.5,658.7 479.8,658.3 482.1,659.3 484.5,660.4 486.8,661.5 489.2,662.7 491.5,663.8 493.9,663.3 496.2,662.5 498.6,661.6 500.9,660.8 503.3,659.8 505.6,657.5 508.0,655.3 510.3,653.1 512.6,650.8 515.0,648.6 517.3,646.5 519.7,644.9 522.0,643.3 524.4,641.8 526.7,640.2 529.1,639.9 531.4,639.7 533.8,639.5 536.1,639.4 538.5,639.6 540.8,640.2 543.1,640.8 545.5,641.3 547.8,642.0 550.2,642.7 552.5,643.5 554.9,644.3 557.2,645.1 559.6,645.8 561.9,646.6 564.3,647.4 566.6,648.2 568.9,649.0 571.3,647.0 573.6,642.9 576.0,638.8 578.3,634.6 580.7,631.1 583.0,629.2 585.4,627.2 587.7,625.2 590.1,623.3 592.4,622.6 594.8,621.8 597.1,621.1 599.4,620.4 601.8,619.7 604.1,619.7 606.5,620.5 608.8,621.3 611.2,622.1 613.5,623.3 615.9,625.7 618.2,628.2 620.6,630.7 622.9,633.2 625.3,635.6 627.6,637.9 629.9,640.2 632.3,642.6 634.6,644.0 637.0,644.9 639.3,645.8 641.7,646.8 644.0,647.0 646.4,646.2 648.7,645.4 651.1,644.6 653.4,644.0 655.8,644.3 658.1,644.5 660.4,644.7 662.8,645.0 665.1,643.9 667.5,642.8 669.8,641.6 672.2,640.4 674.5,639.2 676.9,638.1 679.2,636.9 681.6,635.7 683.9,634.2 686.2,632.3 688.6,630.3 690.9,628.4 693.3,626.4 695.6,625.4 698.0,626.9 700.3,628.3 702.7,629.8 705.0,630.7 707.4,631.4 709.7,632.2 712.1,633.0 714.4,633.9 716.7,634.8 719.1,635.7 721.4,636.7 723.8,637.8 726.1,639.2 728.5,640.6 730.8,642.0 733.2,643.3 735.5,644.0 737.9,644.6 740.2,645.2 742.6,645.9 744.9,645.6 747.2,645.2 749.6,644.7 751.9,644.2 754.3,644.4 756.6,645.2 759.0,646.0 761.3,646.7 763.7,647.7 766.0,649.1 768.4,650.5 770.7,651.9 773.1,653.3 775.4,654.4 777.7,655.4 780.1,656.5 782.4,656.9 784.8,654.8 787.1,652.6 789.5,650.5 791.8,645.2 794.2,638.9 796.5,637.3 798.9,638.3 801.2,639.3 803.5,640.4 805.9,642.1 808.2,643.7 810.6,644.9 812.9,644.5 815.3,644.1 817.6,643.7 820.0,643.3 822.3,643.9 824.7,644.6 827.0,645.2 829.4,645.8 831.7,645.0 834.0,643.6 836.4,642.2 838.7,640.8 841.1,639.7 843.4,639.2 845.8,638.6 848.1,638.6 850.5,639.4 852.8,640.1 855.2,640.8 857.5,641.5 859.9,644.8 862.2,648.7 864.5,651.9 866.9,654.9 869.2,651.3 871.6,647.4 873.9,643.6 876.3,640.1 878.6,636.6 881.0,633.1 883.3,629.8 885.7,628.7 888.0,627.5 890.4,626.3 892.7,625.2 895.0,623.6 897.4,622.1 899.7,620.5 902.1,618.9 904.4,615.7 906.8,611.4 909.1,607.1 911.5,602.8 913.8,600.3 916.2,601.2 918.5,602.1 920.8,601.9 923.2,599.6 925.5,597.4 927.9,595.1 930.2,597.5 932.6,600.1 934.9,602.7 937.3,605.7 939.6,612.1 942.0,618.5 944.3,624.8 946.7,628.0 949.0,629.9 951.3,630.8 953.7,631.0 956.0,631.2 958.4,631.3 960.7,631.5 963.1,631.7 965.4,630.8 967.8,629.9 970.1,629.0 972.5,628.7 974.8,630.4 977.2,632.2 979.5,634.0 981.8,635.8 984.2,637.1 986.5,637.7 988.9,638.4 991.2,639.1 993.6,639.8 995.9,640.5 998.3,641.2 1000.6,641.7 1003.0,641.7 1005.3,641.7 1007.7,641.7 1010.0,641.7 1012.3,641.7 1014.7,641.7 1017.0,641.7 1019.4,643.3 1021.7,645.0 1024.1,646.6 1026.4,648.2 1028.8,649.8 1031.1,650.3 1033.5,649.5 1035.8,648.7 1038.1,647.9 1040.5,647.0 1042.8,645.7 1045.2,644.4 1047.5,643.1 1049.9,641.8 1052.2,642.8 1054.6,644.0 1056.9,645.2 1059.3,646.4 1061.6,647.6 1064.0,648.9 1066.3,650.3 1068.6,651.7 1071.0,653.1 1073.3,654.5 1075.7,655.9 1078.0,656.1 1080.4,654.9 1082.7,653.6 1085.1,652.3 1087.4,651.0 1089.8,651.9 1092.1,653.4 1094.5,655.0 1096.8,656.6 1099.1,659.6 1101.5,662.7 1103.8,665.8 1106.2,668.9 1108.5,671.3 1110.9,673.2 1113.2,675.2 1115.6,677.1 1117.9,676.9 1120.3,673.4 1122.6,669.9 1125.0,668.7 1127.3,668.1 1129.6,667.4 1132.0,666.7 1134.3,661.8 1136.7,656.9 1139.0,652.0 1141.4,648.4 1143.7,645.6 1146.1,642.9 1148.4,640.2 1150.8,636.9 1153.1,632.5 1155.4,628.1 1157.8,623.7 1160.1,619.7 1162.5,615.8 1164.8,611.9 1167.2,608.2 1169.5,606.9 1171.9,605.6 1174.2,605.6 1176.6,606.7 1178.9,607.8 1181.3,608.9 1183.6,607.4 1185.9,604.7 1188.3,602.0 1190.6,599.1 1193.0,595.6 1195.3,592.2 1197.7,588.8 1200.0,590.3 1202.4,592.7 1204.7,597.3 1207.1,602.8 1209.4,608.3 1211.8,613.8 1214.1,618.7 1216.4,623.0 1218.8,627.3 1221.1,631.6 1223.5,635.6 1225.8,638.8 1228.2,641.9 1230.5,645.0 1232.9,648.1 1235.2,648.7 1237.6,649.1 1239.9,649.5 1242.2,649.9 1244.6,648.4 1246.9,646.1 1249.3,643.7 1251.6,641.4 1254.0,639.3 1256.3,637.6 1258.7,635.9 1261.0,634.1 1263.4,633.3 1265.7,636.9 1268.1,640.6 1270.4,644.2 1272.7,647.6 1275.1,650.6 1277.4,653.5 1279.8,656.4 1282.1,657.4 1284.5,658.2 1286.8,659.0 1289.2,659.7 1291.5,660.0 1293.9,660.0 1296.2,660.0 1298.6,660.0 1300.9,661.5 1303.2,665.4 1305.6,669.3 1307.9,672.0 1310.3,672.8 1312.6,673.6 1315.0,674.3 1317.3,674.8 1319.7,673.7 1322.0,672.5 1324.4,671.3 1326.7,670.1 1329.1,668.3 1331.4,666.3 1333.7,664.4 1336.1,662.5 1338.4,660.0 1340.8,657.3 1343.1,654.5 1345.5,651.8 1347.8,647.5 1350.2,640.3 1352.5,633.2 1354.9,629.2 1357.2,626.1 1359.5,626.2 1361.9,627.9 1364.2,629.6 1366.6,631.4 1368.9,632.3 1371.3,633.1 1373.6,633.9 1376.0,634.7 1378.3,635.7 1380.7,636.8 1383.0,638.0 1385.4,639.2 1387.7,640.3 1390.0,641.2 1392.4,642.2 1394.7,643.1 1397.1,644.0 1399.4,643.4 1401.8,642.9 1404.1,642.4 1406.5,641.8 1408.8,639.8 1411.2,637.3 1413.5,634.9 1415.9,632.8 1418.2,631.5 1420.5,630.2" fill="none" stroke="#111" stroke-width="1"/>
<polyline points="10.6,662.2 12.9,662.0 15.3,661.9 17.6,662.0 20.0,662.3 22.3,662.3 24.7,662.1 27.0,661.8 29.4,661.4 31.7,660.9 34.1,660.3 36.4,659.8 38.8,659.3 41.1,658.9 43.4,658.5 45.8,658.5 48.1,658.8 50.5,659.4 52.8,660.1 55.2,661.4 57.5,663.2 59.9,665.2 62.2,667.6 64.6,669.8 66.9,671.5 69.2,672.8 71.6,673.9 73.9,674.9 76.3,676.1 78.6,677.4 81.0,678.8 83.3,680.2 85.7,681.2 88.0,681.8 90.4,682.1 92.7,682.4 95.1,683.3 97.4,684.6 99.7,686.3 102.1,688.2 104.4,690.0 106.8,691.3 109.1,692.2 111.5,692.8 113.8,693.2 116.2,693.1 118.5,692.7 120.9,692.1 123.2,691.3 125.6,690.0 127.9,688.4 130.2,686.4 132.6,684.3 134.9,681.7 137.3,678.8 139.6,675.6 142.0,672.2 144.3,668.7 146.7,665.4 149.0,662.0 151.4,658.7 153.7,655.5 156.1,652.7 158.4,650.2 160.7,647.9 163.1,645.8 165.4,643.8 167.8,642.0 170.1,640.4 172.5,639.0 174.8,637.6 177.2,636.4 179.5,635.0 181.9,633.4 184.2,631.6 186.6,629.7 188.9,628.0 191.2,626.6 193.6,625.4 195.9,624.4 198.3,623.3 200.6,622.1 203.0,620.8 205.3,619.5 207.7,618.8 210.0,618.8 212.4,619.1 214.7,619.8 217.0,620.1 219.4,620.2 221.7,620.0 224.1,619.7 226.4,619.1 228.8,618.8 231.1,618.6 233.5,618.7 235.8,618.9 238.2,619.3 240.5,620.2 242.9,621.3 245.2,622.7 247.5,624.2 249.9,625.5 252.2,626.7 254.6,627.4 256.9,627.6 259.3,627.3 261.6,626.6 264.0,625.8 266.3,625.1 268.7,624.4 271.0,623.9 273.4,623.3 275.7,622.8 278.0,622.6 280.4,623.0 282.7,623.8 285.1,625.0 287.4,626.3 289.8,627.6 292.1,628.9 294.5,630.1 296.8,630.0 299.2,628.6 301.5,626.2 303.9,623.4 306.2,620.5 308.5,617.5 310.9,614.5 313.2,611.8 315.6,609.3 317.9,606.9 320.3,604.4 322.6,601.8 325.0,599.9 327.3,598.6 329.7,597.8 332.0,597.9 334.3,598.8 336.7,600.3 339.0,602.4 341.4,605.0 343.7,608.0 346.1,611.4 348.4,615.0 350.8,618.8 353.1,622.7 355.5,626.1 357.8,629.0 360.2,631.6 362.5,633.9 364.8,636.1 367.2,638.4 369.5,640.6 371.9,642.4 374.2,643.7 376.6,644.6 378.9,645.2 381.3,645.6 383.6,646.0 386.0,646.4 388.3,646.8 390.7,647.1 393.0,647.4 395.3,647.7 397.7,648.0 400.0,648.2 402.4,648.2 404.7,648.0 407.1,647.7 409.4,647.2 411.8,646.8 414.1,646.7 416.5,646.6 418.8,646.7 421.2,647.0 423.5,647.4 425.8,648.1 428.2,648.9 430.5,649.9 432.9,651.1 435.2,652.4 437.6,653.8 439.9,655.4 442.3,657.0 444.6,658.6 447.0,660.2 449.3,661.5 451.6,662.6 454.0,663.3 456.3,663.8 458.7,664.1 461.0,664.1 463.4,664.0 465.7,663.6 468.1,663.1 470.4,662.5 472.8,661.9 475.1,661.3 477.5,660.8 479.8,660.3 482.1,660.1 484.5,660.2 486.8,660.4 489.2,660.9 491.5,661.5 493.9,661.8 496.2,662.0 498.6,661.9 500.9,661.7 503.3,661.3 505.6,660.5 508.0,659.5 510.3,658.2 512.6,656.7 515.0,655.1 517.3,653.4 519.7,651.7 522.0,650.0 524.4,648.4 526.7,646.7 529.1,645.4 531.4,644.2 533.8,643.3 536.1,642.5 538.5,641.9 540.8,641.6 543.1,641.4 545.5,641.4 547.8,641.5 550.2,641.8 552.5,642.1 554.9,642.6 557.2,643.1 559.6,643.6 561.9,644.2 564.3,644.9 566.6,645.5 568.9,646.2 571.3,646.4 573.6,645.7 576.0,644.3 578.3,642.4 580.7,640.1 583.0,637.9 585.4,635.8 587.7,633.7 590.1,631.6 592.4,629.8 594.8,628.2 597.1,626.8 599.4,625.5 601.8,624.3 604.1,623.4 606.5,622.8 608.8,622.5 611.2,622.4 613.5,622.6 615.9,623.2 618.2,624.2 620.6,625.5 622.9,627.1 625.3,628.8 627.6,630.6 629.9,632.5 632.3,634.5 634.6,636.4 637.0,638.1 639.3,639.7 641.7,641.1 644.0,642.3 646.4,643.0 648.7,643.5 651.1,643.7 653.4,643.8 655.8,643.9 658.1,644.0 660.4,644.2 662.8,644.3 665.1,644.2 667.5,644.0 669.8,643.5 672.2,642.9 674.5,642.1 676.9,641.3 679.2,640.4 681.6,639.5 683.9,638.4 686.2,637.2 688.6,635.8 690.9,634.3 693.3,632.8 695.6,631.3 698.0,630.4 700.3,630.0 702.7,630.0 705.0,630.1 707.4,630.4 709.7,630.7 712.1,631.2 714.4,631.7 716.7,632.3 719.1,633.0 721.4,633.7 723.8,634.6 726.1,635.5 728.5,636.5 730.8,637.6 733.2,638.7 735.5,639.8 737.9,640.8 740.2,641.7 742.6,642.5 744.9,643.1 747.2,643.5 749.6,643.8 751.9,643.9 754.3,644.0 756.6,644.2 759.0,644.6 761.3,645.0 763.7,645.5 766.0,646.3 768.4,647.1 770.7,648.1 773.1,649.1 775.4,650.2 777.7,651.2 780.1,652.3 782.4,653.2 784.8,653.5 787.1,653.3 789.5,652.8 791.8,651.2 794.2,648.8 796.5,646.5 798.9,644.8 801.2,643.7 803.5,643.1 805.9,642.9 808.2,643.0 810.6,643.4 812.9,643.6 815.3,643.7 817.6,643.7 820.0,643.6 822.3,643.7 824.7,643.9 827.0,644.1 829.4,644.5 831.7,644.6 834.0,644.4 836.4,643.9 838.7,643.3 841.1,642.6 843.4,641.9 845.8,641.2 848.1,640.7 850.5,640.5 852.8,640.4 855.2,640.5 857.5,640.7 859.9,641.5 862.2,642.9 864.5,644.7 866.9,646.8 869.2,647.7 871.6,647.6 873.9,646.8 876.3,645.5 878.6,643.7 881.0,641.6 883.3,639.2 885.7,637.1 888.0,635.2 890.4,633.4 892.7,631.8 895.0,630.1 897.4,628.5 899.7,626.9 902.1,625.3 904.4,623.4 906.8,621.0 909.1,618.2 911.5,615.1 913.8,612.2 916.2,610.0 918.5,608.4 920.8,607.1 923.2,605.6 925.5,604.0 927.9,602.2 930.2,601.2 932.6,601.0 934.9,601.4 937.3,602.2 939.6,604.2 942.0,607.1 944.3,610.6 946.7,614.1 949.0,617.3 951.3,620.0 953.7,622.2 956.0,624.0 958.4,625.4 960.7,626.7 963.1,627.7 965.4,628.3 967.8,628.6 970.1,628.7 972.5,628.7 974.8,629.0 977.2,629.7 979.5,630.5 981.8,631.6 984.2,632.7 986.5,633.7 988.9,634.6 991.2,635.5 993.6,636.4 995.9,637.2 998.3,638.0 1000.6,638.7 1003.0,639.3 1005.3,639.8 1007.7,640.2 1010.0,640.5 1012.3,640.7 1014.7,640.9 1017.0,641.1 1019.4,641.5 1021.7,642.2 1024.1,643.1 1026.4,644.1 1028.8,645.3 1031.1,646.3 1033.5,646.9 1035.8,647.3 1038.1,647.4 1040.5,647.3 1042.8,647.0 1045.2,646.5 1047.5,645.8 1049.9,645.0 1052.2,644.6 1054.6,644.5 1056.9,644.6 1059.3,645.0 1061.6,645.5 1064.0,646.2 1066.3,647.0 1068.6,647.9 1071.0,649.0 1073.3,650.1 1075.7,651.2 1078.0,652.2 1080.4,652.7 1082.7,652.9 1085.1,652.8 1087.4,652.4 1089.8,652.3 1092.1,652.5 1094.5,653.0 1096.8,653.7 1099.1,654.9 1101.5,656.5 1103.8,658.3 1106.2,660.4 1108.5,662.6 1110.9,664.7 1113.2,666.8 1115.6,668.9 1117.9,670.5 1120.3,671.1 1122.6,670.8 1125.0,670.4 1127.3,669.9 1129.6,669.4 1132.0,668.9 1134.3,667.5 1136.7,665.4 1139.0,662.7 1141.4,659.8 1143.7,657.0 1146.1,654.2 1148.4,651.4 1150.8,648.5 1153.1,645.3 1155.4,641.8 1157.8,638.2 1160.1,634.5 1162.5,630.8 1164.8,627.0 1167.2,623.2 1169.5,620.0 1171.9,617.1 1174.2,614.8 1176.6,613.2 1178.9,612.1 1181.3,611.5 1183.6,610.7 1185.9,609.5 1188.3,608.0 1190.6,606.2 1193.0,604.1 1195.3,601.7 1197.7,599.1 1200.0,597.4 1202.4,596.4 1204.7,596.6 1207.1,597.8 1209.4,599.9 1211.8,602.7 1214.1,605.9 1216.4,609.3 1218.8,612.9 1221.1,616.7 1223.5,620.4 1225.8,624.1 1228.2,627.7 1230.5,631.1 1232.9,634.5 1235.2,637.4 1237.6,639.7 1239.9,641.7 1242.2,643.3 1244.6,644.3 1246.9,644.7 1249.3,644.5 1251.6,643.9 1254.0,642.9 1256.3,641.9 1258.7,640.7 1261.0,639.4 1263.4,638.1 1265.7,637.9 1268.1,638.4 1270.4,639.6 1272.7,641.2 1275.1,643.1 1277.4,645.2 1279.8,647.4 1282.1,649.4 1284.5,651.2 1286.8,652.7 1289.2,654.1 1291.5,655.3 1293.9,656.2 1296.2,657.0 1298.6,657.6 1300.9,658.4 1303.2,659.8 1305.6,661.7 1307.9,663.8 1310.3,665.6 1312.6,667.2 1315.0,668.6 1317.3,669.8 1319.7,670.6 1322.0,671.0 1324.4,671.1 1326.7,670.9 1329.1,670.4 1331.4,669.6 1333.7,668.5 1336.1,667.3 1338.4,665.9 1340.8,664.1 1343.1,662.2 1345.5,660.1 1347.8,657.6 1350.2,654.2 1352.5,650.0 1354.9,645.8 1357.2,641.9 1359.5,638.7 1361.9,636.6 1364.2,635.2 1366.6,634.4 1368.9,634.0 1371.3,633.8 1373.6,633.8 1376.0,634.0 1378.3,634.3 1380.7,634.8 1383.0,635.5 1385.4,636.2 1387.7,637.0 1390.0,637.9 1392.4,638.7 1394.7,639.6 1397.1,640.5 1399.4,641.1 1401.8,641.4 1404.1,641.6 1406.5,641.7 1408.8,641.3 1411.2,640.5 1413.5,639.4 1415.9,638.1 1418.2,636.8 1420.5,635.5" fill="none" stroke="#333" stroke-width="1"/>
<ellipse cx="415.2" cy="349" rx="93.4" ry="44.4" fill="none" stroke="#0a0a0a" stroke-width="3.4"/>
<ellipse cx="1021.8" cy="185.3" rx="92.3" ry="40.2" fill="none" stroke="#0a0a0a" stroke-width="3.4"/>
<polygon points="1198.9,49.8 1298.5,152.4 1294.8,154.1 1310.4,158.9 1305.5,143.3 1303.8,147.1 1200.3,48.4" fill="#0a0a0a"/>
<g stroke="#333" stroke-width="1" fill="none"><path d="M1195.5 75V48.9H1211.6M1198.3 48.9V68.5"/><path d="M104.7 522V535.5H121"/></g>
<rect x="896" y="547" width="85" height="16" rx="3" fill="#888"/>
<rect x="8.5" y="9.4" width="1415" height="697.2" fill="none" stroke="#000" stroke-width="2.9"/>
<defs><filter id="gs" x="0" y="0" width="100%" height="100%" filterUnits="userSpaceOnUse" color-interpolation-filters="sRGB"><feColorMatrix type="saturate" values="0"/></filter></defs>
<g font-family="Liberation Sans, Noto Sans CJK SC, sans-serif" filter="url(#gs)">
<text x="9.6" y="23.8" font-size="13.4" fill="#111" stroke="#111" stroke-width="0.15" font-family="Noto Serif CJK SC, Noto Sans CJK SC, serif" textLength="49.0" lengthAdjust="spacingAndGlyphs">迪瑞医疗</text>
<text x="63.8" y="22.2" font-size="13" fill="#111" stroke="#111" stroke-width="0.42" textLength="66.4" lengthAdjust="spacingAndGlyphs">2020/03/26</text>
<text x="135.6" y="23.8" font-size="13.4" fill="#111" stroke="#111" stroke-width="0.15" font-family="Noto Serif CJK SC, Noto Sans CJK SC, serif">开</text>
<text x="148.8" y="22.2" font-size="13" fill="#111" stroke="#111" stroke-width="0.42" textLength="32.0" lengthAdjust="spacingAndGlyphs">21.00</text>
<text x="184.2" y="23.0" font-size="16.5" fill="#111" stroke="#111" stroke-width="0.25" text-anchor="middle" font-family="Liberation Sans, sans-serif">↓</text>
<text x="190.0" y="23.8" font-size="13.4" fill="#111" stroke="#111" stroke-width="0.15" font-family="Noto Serif CJK SC, Noto Sans CJK SC, serif">高</text>
<text x="203.2" y="22.2" font-size="13" fill="#111" stroke="#111" stroke-width="0.42" textLength="32.0" lengthAdjust="spacingAndGlyphs">21.00</text>
<text x="238.6" y="23.0" font-size="16.5" fill="#111" stroke="#111" stroke-width="0.25" text-anchor="middle" font-family="Liberation Sans, sans-serif">↓</text>
<text x="244.5" y="23.8" font-size="13.4" fill="#111" stroke="#111" stroke-width="0.15" font-family="Noto Serif CJK SC, Noto Sans CJK SC, serif">低</text>
<text x="257.7" y="22.2" font-size="13" fill="#111" stroke="#111" stroke-width="0.42" textLength="32.0" lengthAdjust="spacingAndGlyphs">21.00</text>
<text x="293.1" y="23.0" font-size="16.5" fill="#111" stroke="#111" stroke-width="0.25" text-anchor="middle" font-family="Liberation Sans, sans-serif">↓</text>
<text x="299.8" y="23.8" font-size="13.4" fill="#111" stroke="#111" stroke-width="0.15" font-family="Noto Serif CJK SC, Noto Sans CJK SC, serif">收</text>
<text x="313.0" y="22.2" font-size="13" fill="#111" stroke="#111" stroke-width="0.42" textLength="32.0" lengthAdjust="spacingAndGlyphs">21.00</text>
<text x="348.4" y="23.0" font-size="16.5" fill="#111" stroke="#111" stroke-width="0.25" text-anchor="middle" font-family="Liberation Sans, sans-serif">↓</text>
<text x="352.6" y="23.8" font-size="13.4" fill="#111" stroke="#111" stroke-width="0.15" font-family="Noto Serif CJK SC, Noto Sans CJK SC, serif">量</text>
<text x="365.7" y="22.2" font-size="13" fill="#111" stroke="#111" stroke-width="0.42" textLength="28.2" lengthAdjust="spacingAndGlyphs">1097</text>
<text x="397.6" y="23.4" font-size="16.5" fill="#666" stroke="#666" stroke-width="0.25" text-anchor="middle" font-family="Liberation Sans, sans-serif">↑</text>
<text x="402.8" y="23.8" font-size="13.4" fill="#111" stroke="#111" stroke-width="0.15" font-family="Noto Serif CJK SC, Noto Sans CJK SC, serif">额</text>
<text x="415.8" y="22.2" font-size="13" fill="#111" stroke="#111" stroke-width="0.42" textLength="20.8" lengthAdjust="spacingAndGlyphs">230</text>
<text x="440.8" y="23.4" font-size="16.5" fill="#111" stroke="#111" stroke-width="0.25" text-anchor="middle" font-family="Liberation Sans, sans-serif">↑</text>
<text x="445.8" y="23.8" font-size="13.4" fill="#111" stroke="#111" stroke-width="0.15" font-family="Noto Serif CJK SC, Noto Sans CJK SC, serif">换</text>
<text x="459.0" y="22.2" font-size="13" fill="#111" stroke="#111" stroke-width="0.42" font-weight="bold" textLength="36.0" lengthAdjust="spacingAndGlyphs">0.04%</text>
<text x="499.9" y="23.8" font-size="13.4" fill="#111" stroke="#111" stroke-width="0.15" font-family="Noto Serif CJK SC, Noto Sans CJK SC, serif">振</text>
<text x="512.4" y="22.2" font-size="13" fill="#111" stroke="#111" stroke-width="0.42" font-weight="bold" textLength="35.5" lengthAdjust="spacingAndGlyphs">0.00%</text>
<text x="554.8" y="23.8" font-size="13.4" fill="#111" stroke="#111" stroke-width="0.15" font-family="Noto Serif CJK SC, Noto Sans CJK SC, serif">涨</text>
<text x="568.0" y="22.2" font-size="13" fill="#111" stroke="#111" stroke-width="0.42" textLength="80.0" lengthAdjust="spacingAndGlyphs">(-0.01)-0.05%</text>
<text x="651.8" y="23.0" font-size="16.5" fill="#111" stroke="#111" stroke-width="0.25" text-anchor="middle" font-family="Liberation Sans, sans-serif">↓</text>
<text x="10.0" y="40.6" font-size="13" fill="#111" stroke="#111" stroke-width="0.42" textLength="173.4" lengthAdjust="spacingAndGlyphs">MA(5,10,20,0,60,120,250,0,7)</text>
<text x="194.5" y="40.6" font-size="13" fill="#111" stroke="#111" stroke-width="0.42" textLength="16.2" lengthAdjust="spacingAndGlyphs">M1</text>
<text x="215.7" y="40.6" font-size="13" fill="#111" stroke="#111" stroke-width="0.42" textLength="38.6" lengthAdjust="spacingAndGlyphs">20.986</text>
<text x="257.7" y="39.4" font-size="16.5" fill="#111" stroke="#111" stroke-width="0.25" text-anchor="middle" font-family="Liberation Sans, sans-serif">↑</text>
<text x="268.9" y="40.6" font-size="13" fill="#111" stroke="#111" stroke-width="0.42" textLength="16.2" lengthAdjust="spacingAndGlyphs">M2</text>
<text x="290.1" y="40.6" font-size="13" fill="#111" stroke="#111" stroke-width="0.42" textLength="38.6" lengthAdjust="spacingAndGlyphs">20.953</text>
<text x="332.1" y="39.4" font-size="16.5" fill="#111" stroke="#111" stroke-width="0.25" text-anchor="middle" font-family="Liberation Sans, sans-serif">↑</text>
<text x="343.3" y="40.6" font-size="13" fill="#111" stroke="#111" stroke-width="0.42" textLength="16.2" lengthAdjust="spacingAndGlyphs">M3</text>
<text x="364.5" y="40.6" font-size="13" fill="#111" stroke="#111" stroke-width="0.42" textLength="38.6" lengthAdjust="spacingAndGlyphs">20.907</text>
<text x="406.5" y="39.4" font-size="16.5" fill="#111" stroke="#111" stroke-width="0.25" text-anchor="middle" font-family="Liberation Sans, sans-serif">↑</text>
<text x="417.7" y="40.6" font-size="13" fill="#111" stroke="#111" stroke-width="0.42" textLength="16.2" lengthAdjust="spacingAndGlyphs">M5</text>
<text x="438.9" y="40.6" font-size="13" fill="#111" stroke="#111" stroke-width="0.42" textLength="38.6" lengthAdjust="spacingAndGlyphs">20.835</text>
<text x="480.9" y="39.4" font-size="16.5" fill="#111" stroke="#111" stroke-width="0.25" text-anchor="middle" font-family="Liberation Sans, sans-serif">↑</text>
<text x="492.1" y="40.6" font-size="13" fill="#aaa" stroke="#aaa" stroke-width="0.42" textLength="16.2" lengthAdjust="spacingAndGlyphs">M6</text>
<text x="513.3" y="40.6" font-size="13" fill="#aaa" stroke="#aaa" stroke-width="0.42" textLength="38.6" lengthAdjust="spacingAndGlyphs">20.829</text>
<text x="555.3" y="39.4" font-size="16.5" fill="#aaa" stroke="#aaa" stroke-width="0.25" text-anchor="middle" font-family="Liberation Sans, sans-serif">↑</text>
<text x="566.5" y="40.6" font-size="13" fill="#111" stroke="#111" stroke-width="0.42" textLength="16.2" lengthAdjust="spacingAndGlyphs">M7</text>
<text x="587.7" y="40.6" font-size="13" fill="#111" stroke="#111" stroke-width="0.42" textLength="38.6" lengthAdjust="spacingAndGlyphs">20.627</text>
<text x="629.7" y="39.4" font-size="16.5" fill="#111" stroke="#111" stroke-width="0.25" text-anchor="middle" font-family="Liberation Sans, sans-serif">↑</text>
<text x="10.5" y="558.6" font-size="13" fill="#111" stroke="#111" stroke-width="0.42" textLength="65.5" lengthAdjust="spacingAndGlyphs">2020/03/24</text>
<text x="301.0" y="558.6" font-size="13" fill="#111" stroke="#111" stroke-width="0.42" textLength="32.5" lengthAdjust="spacingAndGlyphs">03/25</text>
<text x="862.8" y="558.6" font-size="13" fill="#111" stroke="#111" stroke-width="0.42" textLength="32.6" lengthAdjust="spacingAndGlyphs">03/26</text>
<text x="9.5" y="577.6" font-size="13" fill="#111" stroke="#111" stroke-width="0.42" textLength="89.5" lengthAdjust="spacingAndGlyphs">MACD(12,26,9)</text>
<text x="109.5" y="577.6" font-size="13" fill="#111" stroke="#111" stroke-width="0.42" textLength="27.5" lengthAdjust="spacingAndGlyphs">DIFF</text>
<text x="141.0" y="577.1" font-size="13" fill="#111" stroke="#111" stroke-width="0.42" textLength="33.5" lengthAdjust="spacingAndGlyphs">0.040</text>
<text x="177.3" y="576.6" font-size="16.5" fill="#111" stroke="#111" stroke-width="0.25" text-anchor="middle" font-family="Liberation Sans, sans-serif">↑</text>
<text x="187.5" y="577.6" font-size="13" fill="#111" stroke="#111" stroke-width="0.42" textLength="25.5" lengthAdjust="spacingAndGlyphs">DEA</text>
<text x="216.5" y="577.1" font-size="13" fill="#111" stroke="#111" stroke-width="0.42" textLength="32.5" lengthAdjust="spacingAndGlyphs">0.029</text>
<text x="251.8" y="576.6" font-size="16.5" fill="#111" stroke="#111" stroke-width="0.25" text-anchor="middle" font-family="Liberation Sans, sans-serif">↑</text>
<text x="262.5" y="577.6" font-size="13" fill="#111" stroke="#111" stroke-width="0.42" textLength="36.0" lengthAdjust="spacingAndGlyphs">MACD</text>
<text x="302.5" y="577.1" font-size="13" fill="#111" stroke="#111" stroke-width="0.42" textLength="32.5" lengthAdjust="spacingAndGlyphs">0.022</text>
<text x="338.3" y="578.4" font-size="16.5" fill="#111" stroke="#111" stroke-width="0.25" text-anchor="middle" font-family="Liberation Sans, sans-serif">↓</text>
<text x="1213.8" y="53.7" font-size="12.5" fill="#111" stroke="#111" stroke-width="0.3" textLength="32.8" lengthAdjust="spacingAndGlyphs">21.12</text>
<text x="131.0" y="534.8" font-size="12.5" fill="#111" stroke="#111" stroke-width="0.42" font-weight="bold" textLength="32.0" lengthAdjust="spacingAndGlyphs">18.88</text>
</g>
</svg>
</body></html>
